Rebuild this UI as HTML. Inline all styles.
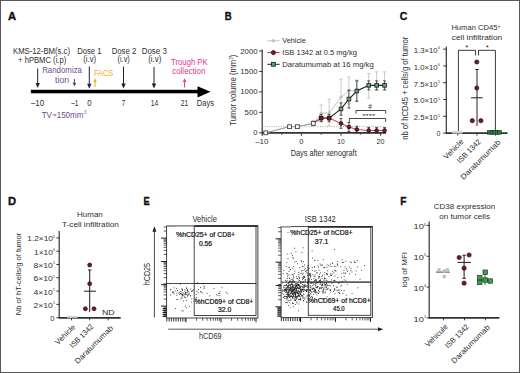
<!DOCTYPE html>
<html><head><meta charset="utf-8"><style>
html,body{margin:0;padding:0;background:#fff;}
svg{display:block;font-family:"Liberation Sans", sans-serif;}
</style></head><body>
<svg width="520" height="373" viewBox="0 0 520 373">
<rect width="520" height="373" fill="#fff"/>
<rect x="0.5" y="0.5" width="519" height="372" fill="none" stroke="#585858" stroke-width="1"/>
<text x="8.00" y="19.60" font-size="10.6" fill="#111" font-weight="bold" textLength="8.10" lengthAdjust="spacingAndGlyphs" stroke="#111" stroke-width="0.35">A</text>
<text x="224.80" y="19.60" font-size="10.6" fill="#111" font-weight="bold" textLength="6.90" lengthAdjust="spacingAndGlyphs" stroke="#111" stroke-width="0.35">B</text>
<text x="399.80" y="19.60" font-size="10.6" fill="#111" font-weight="bold" textLength="7.60" lengthAdjust="spacingAndGlyphs" stroke="#111" stroke-width="0.35">C</text>
<text x="8.00" y="205.10" font-size="10.6" fill="#111" font-weight="bold" textLength="8.10" lengthAdjust="spacingAndGlyphs" stroke="#111" stroke-width="0.35">D</text>
<text x="143.50" y="205.10" font-size="10.6" fill="#111" font-weight="bold" textLength="6.20" lengthAdjust="spacingAndGlyphs" stroke="#111" stroke-width="0.35">E</text>
<text x="400.30" y="205.10" font-size="10.6" fill="#111" font-weight="bold" textLength="6.20" lengthAdjust="spacingAndGlyphs" stroke="#111" stroke-width="0.35">F</text>
<text x="13.00" y="53.70" font-size="8.5" fill="#2e2e2e" textLength="57.00" lengthAdjust="spacingAndGlyphs">KMS-12-BM(s.c)</text>
<text x="18.10" y="63.00" font-size="8.5" fill="#2e2e2e" textLength="48.20" lengthAdjust="spacingAndGlyphs">+ hPBMC (i.p)</text>
<text x="77.20" y="53.60" font-size="8.5" fill="#2e2e2e" textLength="24.30" lengthAdjust="spacingAndGlyphs">Dose 1</text>
<text x="83.20" y="62.20" font-size="8.5" fill="#2e2e2e" textLength="12.90" lengthAdjust="spacingAndGlyphs">(i.v)</text>
<text x="111.70" y="53.60" font-size="8.5" fill="#2e2e2e" textLength="24.50" lengthAdjust="spacingAndGlyphs">Dose 2</text>
<text x="117.50" y="62.20" font-size="8.5" fill="#2e2e2e" textLength="12.30" lengthAdjust="spacingAndGlyphs">(i.v)</text>
<text x="141.70" y="53.60" font-size="8.5" fill="#2e2e2e" textLength="25.10" lengthAdjust="spacingAndGlyphs">Dose 3</text>
<text x="148.20" y="62.20" font-size="8.5" fill="#2e2e2e" textLength="13.20" lengthAdjust="spacingAndGlyphs">(i.v)</text>
<text x="42.20" y="73.20" font-size="8.5" fill="#6e4d8a" textLength="39.80" lengthAdjust="spacingAndGlyphs">Randomiza</text>
<text x="55.10" y="82.50" font-size="8.5" fill="#6e4d8a" textLength="14.00" lengthAdjust="spacingAndGlyphs">tion</text>
<text x="94.00" y="75.50" font-size="8.5" fill="#f0a830" textLength="19.30" lengthAdjust="spacingAndGlyphs">FACS</text>
<text x="171.10" y="64.80" font-size="8.5" fill="#e0368c" textLength="36.50" lengthAdjust="spacingAndGlyphs">Trough PK</text>
<text x="172.20" y="74.00" font-size="8.5" fill="#e0368c" textLength="33.20" lengthAdjust="spacingAndGlyphs">collection</text>
<text x="31.00" y="105.50" font-size="8.5" fill="#2e2e2e" textLength="13.10" lengthAdjust="spacingAndGlyphs">–10</text>
<text x="71.20" y="105.50" font-size="8.5" fill="#2e2e2e" textLength="7.10" lengthAdjust="spacingAndGlyphs">–1</text>
<text x="87.30" y="105.50" font-size="8.5" fill="#2e2e2e" textLength="4.30" lengthAdjust="spacingAndGlyphs">0</text>
<text x="121.80" y="105.50" font-size="8.5" fill="#2e2e2e" textLength="3.50" lengthAdjust="spacingAndGlyphs">7</text>
<text x="150.70" y="105.50" font-size="8.5" fill="#2e2e2e" textLength="7.50" lengthAdjust="spacingAndGlyphs">14</text>
<text x="180.80" y="105.50" font-size="8.5" fill="#2e2e2e" textLength="7.50" lengthAdjust="spacingAndGlyphs">21</text>
<text x="196.80" y="105.50" font-size="8.5" fill="#2e2e2e" textLength="17.20" lengthAdjust="spacingAndGlyphs">Days</text>
<text x="41.70" y="117.60" font-size="8.5" fill="#6e4d8a" textLength="41.80" lengthAdjust="spacingAndGlyphs">TV~150mm</text>
<text x="83.90" y="114.20" font-size="4.8" fill="#6e4d8a" textLength="2.40" lengthAdjust="spacingAndGlyphs">3</text>
<rect x="30.8" y="89.8" width="168" height="3.5" fill="#000"/>
<polygon points="197.5,86.2 210.5,91.8 197.5,97.4" fill="#000"/>
<line x1="37.70" y1="68.50" x2="37.70" y2="83.50" stroke="#222" stroke-width="1"/>
<polygon points="35.50,83.00 39.90,83.00 37.70,88.00" fill="#222"/>
<line x1="89.30" y1="66.50" x2="89.30" y2="84.30" stroke="#1a2238" stroke-width="1"/>
<polygon points="87.10,83.80 91.50,83.80 89.30,88.80" fill="#1a2238"/>
<line x1="123.50" y1="66.50" x2="123.50" y2="84.10" stroke="#222" stroke-width="1"/>
<polygon points="121.30,83.60 125.70,83.60 123.50,88.60" fill="#222"/>
<line x1="154.00" y1="66.90" x2="154.00" y2="84.10" stroke="#222" stroke-width="1"/>
<polygon points="151.80,83.60 156.20,83.60 154.00,88.60" fill="#222"/>
<line x1="74.40" y1="79.00" x2="74.40" y2="83.20" stroke="#5a3a78" stroke-width="1"/>
<polygon points="72.60,82.70 76.20,82.70 74.40,86.50" fill="#5a3a78"/>
<line x1="95.00" y1="87.00" x2="95.00" y2="81.60" stroke="#f0a830" stroke-width="1"/>
<polygon points="93.20,82.10 96.80,82.10 95.00,78.30" fill="#f0a830"/>
<line x1="184.60" y1="87.50" x2="184.60" y2="81.60" stroke="#e0368c" stroke-width="1"/>
<polygon points="182.80,82.10 186.40,82.10 184.60,78.30" fill="#e0368c"/>
<line x1="262.20" y1="49.50" x2="262.20" y2="135.80" stroke="#333" stroke-width="1.2"/>
<line x1="259.20" y1="132.80" x2="262.20" y2="132.80" stroke="#333" stroke-width="1"/>
<line x1="259.20" y1="112.35" x2="262.20" y2="112.35" stroke="#333" stroke-width="1"/>
<line x1="259.20" y1="91.90" x2="262.20" y2="91.90" stroke="#333" stroke-width="1"/>
<line x1="259.20" y1="71.45" x2="262.20" y2="71.45" stroke="#333" stroke-width="1"/>
<line x1="259.20" y1="51.00" x2="262.20" y2="51.00" stroke="#333" stroke-width="1"/>
<text x="257.60" y="53.50" font-size="7.4" fill="#2e2e2e" text-anchor="end" textLength="17.30" lengthAdjust="spacingAndGlyphs">2000</text>
<text x="257.60" y="73.95" font-size="7.4" fill="#2e2e2e" text-anchor="end" textLength="17.30" lengthAdjust="spacingAndGlyphs">1500</text>
<text x="257.60" y="94.40" font-size="7.4" fill="#2e2e2e" text-anchor="end" textLength="17.30" lengthAdjust="spacingAndGlyphs">1000</text>
<text x="257.60" y="114.85" font-size="7.4" fill="#2e2e2e" text-anchor="end" textLength="13.00" lengthAdjust="spacingAndGlyphs">500</text>
<text x="257.40" y="135.30" font-size="7.4" fill="#2e2e2e" text-anchor="end" textLength="4.20" lengthAdjust="spacingAndGlyphs">0</text>
<line x1="262.00" y1="132.80" x2="386.00" y2="132.80" stroke="#333" stroke-width="1.8"/>
<line x1="301.40" y1="133.30" x2="301.40" y2="135.80" stroke="#333" stroke-width="1"/>
<line x1="341.00" y1="133.30" x2="341.00" y2="135.80" stroke="#333" stroke-width="1"/>
<line x1="380.60" y1="133.30" x2="380.60" y2="135.80" stroke="#333" stroke-width="1"/>
<line x1="281.60" y1="133.30" x2="281.60" y2="135.00" stroke="#333" stroke-width="0.8"/>
<line x1="321.20" y1="133.30" x2="321.20" y2="135.00" stroke="#333" stroke-width="0.8"/>
<line x1="360.80" y1="133.30" x2="360.80" y2="135.00" stroke="#333" stroke-width="0.8"/>
<text x="261.80" y="144.40" font-size="7.4" fill="#2e2e2e" text-anchor="middle" textLength="13.20" lengthAdjust="spacingAndGlyphs">–10</text>
<text x="301.40" y="144.20" font-size="7.4" fill="#2e2e2e" text-anchor="middle" textLength="4.20" lengthAdjust="spacingAndGlyphs">0</text>
<text x="341.00" y="144.20" font-size="7.4" fill="#2e2e2e" text-anchor="middle" textLength="7.40" lengthAdjust="spacingAndGlyphs">10</text>
<text x="380.60" y="144.20" font-size="7.4" fill="#2e2e2e" text-anchor="middle" textLength="8.00" lengthAdjust="spacingAndGlyphs">20</text>
<text x="290.70" y="155.90" font-size="8.9" fill="#2e2e2e" textLength="66.00" lengthAdjust="spacingAndGlyphs">Days after xenograft</text>
<text x="235.80" y="125.70" font-size="8.8" fill="#2e2e2e" textLength="71.00" lengthAdjust="spacingAndGlyphs" transform="rotate(-90 235.80 125.70)">Tumor volume (mm<tspan font-size="5.2" dy="-3.2">3</tspan><tspan dy="3.2">)</tspan></text>
<line x1="262.50" y1="126.67" x2="384.00" y2="126.67" stroke="#888" stroke-width="0.7" stroke-dasharray="1,1.3"/>
<line x1="313.28" y1="120.94" x2="313.28" y2="125.85" stroke="#c4c4c4" stroke-width="0.9"/>
<line x1="311.48" y1="120.94" x2="315.08" y2="120.94" stroke="#c4c4c4" stroke-width="0.9"/>
<line x1="311.48" y1="125.85" x2="315.08" y2="125.85" stroke="#c4c4c4" stroke-width="0.9"/>
<line x1="321.20" y1="105.11" x2="321.20" y2="121.47" stroke="#c4c4c4" stroke-width="0.9"/>
<line x1="319.40" y1="105.11" x2="323.00" y2="105.11" stroke="#c4c4c4" stroke-width="0.9"/>
<line x1="319.40" y1="121.47" x2="323.00" y2="121.47" stroke="#c4c4c4" stroke-width="0.9"/>
<line x1="329.12" y1="99.22" x2="329.12" y2="126.22" stroke="#c4c4c4" stroke-width="0.9"/>
<line x1="327.32" y1="99.22" x2="330.92" y2="99.22" stroke="#c4c4c4" stroke-width="0.9"/>
<line x1="327.32" y1="126.22" x2="330.92" y2="126.22" stroke="#c4c4c4" stroke-width="0.9"/>
<line x1="341.00" y1="79.10" x2="341.00" y2="115.34" stroke="#c4c4c4" stroke-width="0.9"/>
<line x1="339.20" y1="79.10" x2="342.80" y2="79.10" stroke="#c4c4c4" stroke-width="0.9"/>
<line x1="339.20" y1="115.34" x2="342.80" y2="115.34" stroke="#c4c4c4" stroke-width="0.9"/>
<line x1="348.92" y1="77.09" x2="348.92" y2="103.92" stroke="#c4c4c4" stroke-width="0.9"/>
<line x1="347.12" y1="77.09" x2="350.72" y2="77.09" stroke="#c4c4c4" stroke-width="0.9"/>
<line x1="347.12" y1="103.92" x2="350.72" y2="103.92" stroke="#c4c4c4" stroke-width="0.9"/>
<line x1="356.84" y1="80.04" x2="356.84" y2="101.31" stroke="#c4c4c4" stroke-width="0.9"/>
<line x1="355.04" y1="80.04" x2="358.64" y2="80.04" stroke="#c4c4c4" stroke-width="0.9"/>
<line x1="355.04" y1="101.31" x2="358.64" y2="101.31" stroke="#c4c4c4" stroke-width="0.9"/>
<line x1="368.72" y1="73.50" x2="368.72" y2="98.04" stroke="#c4c4c4" stroke-width="0.9"/>
<line x1="366.92" y1="73.50" x2="370.52" y2="73.50" stroke="#c4c4c4" stroke-width="0.9"/>
<line x1="366.92" y1="98.04" x2="370.52" y2="98.04" stroke="#c4c4c4" stroke-width="0.9"/>
<line x1="376.64" y1="71.86" x2="376.64" y2="90.26" stroke="#c4c4c4" stroke-width="0.9"/>
<line x1="374.84" y1="71.86" x2="378.44" y2="71.86" stroke="#c4c4c4" stroke-width="0.9"/>
<line x1="374.84" y1="90.26" x2="378.44" y2="90.26" stroke="#c4c4c4" stroke-width="0.9"/>
<line x1="384.56" y1="71.86" x2="384.56" y2="90.26" stroke="#c4c4c4" stroke-width="0.9"/>
<line x1="382.76" y1="71.86" x2="386.36" y2="71.86" stroke="#c4c4c4" stroke-width="0.9"/>
<line x1="382.76" y1="90.26" x2="386.36" y2="90.26" stroke="#c4c4c4" stroke-width="0.9"/>
<polyline points="265.76,132.80 289.52,126.67 297.44,126.67 313.28,123.39 321.20,113.29 329.12,112.72 341.00,97.22 348.92,90.51 356.84,90.67 368.72,85.77 376.64,85.77 384.56,85.77" fill="none" stroke="#c4c4c4" stroke-width="1"/>
<circle cx="265.76" cy="132.80" r="1.6" fill="#c4c4c4"/>
<circle cx="289.52" cy="126.67" r="1.6" fill="#c4c4c4"/>
<circle cx="297.44" cy="126.67" r="1.6" fill="#c4c4c4"/>
<circle cx="313.28" cy="123.39" r="1.6" fill="#c4c4c4"/>
<circle cx="321.20" cy="113.29" r="1.6" fill="#c4c4c4"/>
<circle cx="329.12" cy="112.72" r="1.6" fill="#c4c4c4"/>
<circle cx="341.00" cy="97.22" r="1.6" fill="#c4c4c4"/>
<circle cx="348.92" cy="90.51" r="1.6" fill="#c4c4c4"/>
<circle cx="356.84" cy="90.67" r="1.6" fill="#c4c4c4"/>
<circle cx="368.72" cy="85.77" r="1.6" fill="#c4c4c4"/>
<circle cx="376.64" cy="85.77" r="1.6" fill="#c4c4c4"/>
<circle cx="384.56" cy="85.77" r="1.6" fill="#c4c4c4"/>
<line x1="313.28" y1="121.35" x2="313.28" y2="125.44" stroke="#333" stroke-width="0.8"/>
<line x1="311.78" y1="121.35" x2="314.78" y2="121.35" stroke="#333" stroke-width="0.8"/>
<line x1="311.78" y1="125.44" x2="314.78" y2="125.44" stroke="#333" stroke-width="0.8"/>
<line x1="321.20" y1="114.40" x2="321.20" y2="121.76" stroke="#333" stroke-width="0.8"/>
<line x1="319.70" y1="114.40" x2="322.70" y2="114.40" stroke="#333" stroke-width="0.8"/>
<line x1="319.70" y1="121.76" x2="322.70" y2="121.76" stroke="#333" stroke-width="0.8"/>
<line x1="329.12" y1="114.40" x2="329.12" y2="121.76" stroke="#333" stroke-width="0.8"/>
<line x1="327.62" y1="114.40" x2="330.62" y2="114.40" stroke="#333" stroke-width="0.8"/>
<line x1="327.62" y1="121.76" x2="330.62" y2="121.76" stroke="#333" stroke-width="0.8"/>
<line x1="341.00" y1="102.82" x2="341.00" y2="115.09" stroke="#333" stroke-width="0.8"/>
<line x1="339.50" y1="102.82" x2="342.50" y2="102.82" stroke="#333" stroke-width="0.8"/>
<line x1="339.50" y1="115.09" x2="342.50" y2="115.09" stroke="#333" stroke-width="0.8"/>
<line x1="348.92" y1="90.06" x2="348.92" y2="108.06" stroke="#333" stroke-width="0.8"/>
<line x1="347.42" y1="90.06" x2="350.42" y2="90.06" stroke="#333" stroke-width="0.8"/>
<line x1="347.42" y1="108.06" x2="350.42" y2="108.06" stroke="#333" stroke-width="0.8"/>
<line x1="356.84" y1="80.78" x2="356.84" y2="101.23" stroke="#333" stroke-width="0.8"/>
<line x1="355.34" y1="80.78" x2="358.34" y2="80.78" stroke="#333" stroke-width="0.8"/>
<line x1="355.34" y1="101.23" x2="358.34" y2="101.23" stroke="#333" stroke-width="0.8"/>
<line x1="368.72" y1="80.86" x2="368.72" y2="89.86" stroke="#333" stroke-width="0.8"/>
<line x1="367.22" y1="80.86" x2="370.22" y2="80.86" stroke="#333" stroke-width="0.8"/>
<line x1="367.22" y1="89.86" x2="370.22" y2="89.86" stroke="#333" stroke-width="0.8"/>
<line x1="376.64" y1="80.86" x2="376.64" y2="89.86" stroke="#333" stroke-width="0.8"/>
<line x1="375.14" y1="80.86" x2="378.14" y2="80.86" stroke="#333" stroke-width="0.8"/>
<line x1="375.14" y1="89.86" x2="378.14" y2="89.86" stroke="#333" stroke-width="0.8"/>
<line x1="384.56" y1="80.86" x2="384.56" y2="89.86" stroke="#333" stroke-width="0.8"/>
<line x1="383.06" y1="80.86" x2="386.06" y2="80.86" stroke="#333" stroke-width="0.8"/>
<line x1="383.06" y1="89.86" x2="386.06" y2="89.86" stroke="#333" stroke-width="0.8"/>
<polyline points="313.28,123.39 321.20,118.08 329.12,118.08 341.00,108.96 348.92,99.06 356.84,91.00 368.72,85.36 376.64,85.36 384.56,85.36" fill="none" stroke="#222" stroke-width="1.1"/>
<line x1="341.00" y1="118.49" x2="341.00" y2="128.30" stroke="#333" stroke-width="0.8"/>
<line x1="339.50" y1="118.49" x2="342.50" y2="118.49" stroke="#333" stroke-width="0.8"/>
<line x1="339.50" y1="128.30" x2="342.50" y2="128.30" stroke="#333" stroke-width="0.8"/>
<line x1="348.92" y1="122.49" x2="348.92" y2="131.49" stroke="#333" stroke-width="0.8"/>
<line x1="347.42" y1="122.49" x2="350.42" y2="122.49" stroke="#333" stroke-width="0.8"/>
<line x1="347.42" y1="131.49" x2="350.42" y2="131.49" stroke="#333" stroke-width="0.8"/>
<line x1="356.84" y1="126.22" x2="356.84" y2="132.76" stroke="#333" stroke-width="0.8"/>
<line x1="355.34" y1="126.22" x2="358.34" y2="126.22" stroke="#333" stroke-width="0.8"/>
<line x1="355.34" y1="132.76" x2="358.34" y2="132.76" stroke="#333" stroke-width="0.8"/>
<line x1="368.72" y1="127.44" x2="368.72" y2="132.80" stroke="#333" stroke-width="0.8"/>
<line x1="367.22" y1="127.44" x2="370.22" y2="127.44" stroke="#333" stroke-width="0.8"/>
<line x1="367.22" y1="132.80" x2="370.22" y2="132.80" stroke="#333" stroke-width="0.8"/>
<line x1="376.64" y1="127.44" x2="376.64" y2="132.80" stroke="#333" stroke-width="0.8"/>
<line x1="375.14" y1="127.44" x2="378.14" y2="127.44" stroke="#333" stroke-width="0.8"/>
<line x1="375.14" y1="132.80" x2="378.14" y2="132.80" stroke="#333" stroke-width="0.8"/>
<line x1="384.56" y1="127.44" x2="384.56" y2="132.80" stroke="#333" stroke-width="0.8"/>
<line x1="383.06" y1="127.44" x2="386.06" y2="127.44" stroke="#333" stroke-width="0.8"/>
<line x1="383.06" y1="132.80" x2="386.06" y2="132.80" stroke="#333" stroke-width="0.8"/>
<polyline points="313.28,123.39 321.20,118.08 329.12,118.08 341.00,123.39 348.92,126.99 356.84,129.49 368.72,130.51 376.64,130.51 384.56,130.51" fill="none" stroke="#d04a62" stroke-width="1.1"/>
<polyline points="265.76,132.80 289.52,126.67 297.44,126.67 313.28,123.39" fill="none" stroke="#999" stroke-width="0.9"/>
<rect x="319.40" y="116.28" width="3.6" height="3.6" fill="#6aa878" stroke="#1e2a20" stroke-width="0.9"/>
<rect x="327.32" y="116.28" width="3.6" height="3.6" fill="#6aa878" stroke="#1e2a20" stroke-width="0.9"/>
<rect x="339.20" y="107.16" width="3.6" height="3.6" fill="#6aa878" stroke="#1e2a20" stroke-width="0.9"/>
<rect x="347.12" y="97.26" width="3.6" height="3.6" fill="#6aa878" stroke="#1e2a20" stroke-width="0.9"/>
<rect x="355.04" y="89.20" width="3.6" height="3.6" fill="#6aa878" stroke="#1e2a20" stroke-width="0.9"/>
<rect x="366.92" y="83.56" width="3.6" height="3.6" fill="#6aa878" stroke="#1e2a20" stroke-width="0.9"/>
<rect x="374.84" y="83.56" width="3.6" height="3.6" fill="#6aa878" stroke="#1e2a20" stroke-width="0.9"/>
<rect x="382.76" y="83.56" width="3.6" height="3.6" fill="#6aa878" stroke="#1e2a20" stroke-width="0.9"/>
<circle cx="321.20" cy="118.08" r="1.9" fill="#7a1528" stroke="#2a0a10" stroke-width="0.7"/>
<circle cx="329.12" cy="118.08" r="1.9" fill="#7a1528" stroke="#2a0a10" stroke-width="0.7"/>
<circle cx="341.00" cy="123.39" r="1.9" fill="#7a1528" stroke="#2a0a10" stroke-width="0.7"/>
<circle cx="348.92" cy="126.99" r="1.9" fill="#7a1528" stroke="#2a0a10" stroke-width="0.7"/>
<circle cx="356.84" cy="129.49" r="1.9" fill="#7a1528" stroke="#2a0a10" stroke-width="0.7"/>
<circle cx="368.72" cy="130.51" r="1.9" fill="#7a1528" stroke="#2a0a10" stroke-width="0.7"/>
<circle cx="376.64" cy="130.51" r="1.9" fill="#7a1528" stroke="#2a0a10" stroke-width="0.7"/>
<circle cx="384.56" cy="130.51" r="1.9" fill="#7a1528" stroke="#2a0a10" stroke-width="0.7"/>
<rect x="263.86" y="130.90" width="3.8" height="3.8" fill="#fff" stroke="#444" stroke-width="0.9"/>
<rect x="287.62" y="124.77" width="3.8" height="3.8" fill="#fff" stroke="#444" stroke-width="0.9"/>
<rect x="295.54" y="124.77" width="3.8" height="3.8" fill="#fff" stroke="#444" stroke-width="0.9"/>
<rect x="311.38" y="121.49" width="3.8" height="3.8" fill="#fff" stroke="#444" stroke-width="0.9"/>
<line x1="267.30" y1="40.80" x2="279.60" y2="40.80" stroke="#c4c4c4" stroke-width="1"/>
<circle cx="273.3" cy="40.8" r="1.7" fill="#c4c4c4"/>
<text x="282.20" y="43.10" font-size="7.6" fill="#2e2e2e" textLength="23.60" lengthAdjust="spacingAndGlyphs">Vehicle</text>
<line x1="267.30" y1="52.60" x2="279.60" y2="52.60" stroke="#c0394f" stroke-width="1"/>
<circle cx="273.4" cy="52.6" r="2.1" fill="#7a1528" stroke="#2a0a10" stroke-width="0.7"/>
<text x="282.20" y="54.90" font-size="7.6" fill="#2e2e2e" textLength="74.70" lengthAdjust="spacingAndGlyphs">ISB 1342 at 0.5 mg/kg</text>
<line x1="267.30" y1="64.30" x2="279.60" y2="64.30" stroke="#222" stroke-width="1"/>
<rect x="271.5" y="62.4" width="3.8" height="3.8" fill="#5aa86a" stroke="#1e2a20" stroke-width="0.9"/>
<text x="282.20" y="66.60" font-size="7.6" fill="#2e2e2e" textLength="91.60" lengthAdjust="spacingAndGlyphs">Daratumumab at 16 mg/kg</text>
<line x1="356.00" y1="110.50" x2="385.70" y2="110.50" stroke="#333" stroke-width="0.9"/>
<line x1="356.00" y1="110.50" x2="356.00" y2="113.70" stroke="#333" stroke-width="0.9"/>
<line x1="385.70" y1="110.50" x2="385.70" y2="113.70" stroke="#333" stroke-width="0.9"/>
<text x="370.00" y="108.90" font-size="6.5" fill="#2e2e2e" text-anchor="middle">#</text>
<line x1="349.30" y1="118.50" x2="385.70" y2="118.50" stroke="#333" stroke-width="0.9"/>
<line x1="349.30" y1="118.50" x2="349.30" y2="121.90" stroke="#333" stroke-width="0.9"/>
<line x1="385.70" y1="118.50" x2="385.70" y2="121.90" stroke="#333" stroke-width="0.9"/>
<text x="368.80" y="118.00" font-size="6.2" fill="#2e2e2e" text-anchor="middle" textLength="13.20" lengthAdjust="spacingAndGlyphs">****</text>
<line x1="446.30" y1="46.50" x2="446.30" y2="133.80" stroke="#333" stroke-width="1.2"/>
<line x1="446.00" y1="133.10" x2="507.50" y2="133.10" stroke="#333" stroke-width="1.8"/>
<line x1="443.20" y1="49.10" x2="446.30" y2="49.10" stroke="#333" stroke-width="1"/>
<text x="413.80" y="53.00" font-size="7.0" fill="#2e2e2e" textLength="23.80" lengthAdjust="spacingAndGlyphs">1.3×10</text>
<text x="437.90" y="49.40" font-size="3.6" fill="#2e2e2e" textLength="1.90" lengthAdjust="spacingAndGlyphs">6</text>
<line x1="443.20" y1="65.90" x2="446.30" y2="65.90" stroke="#333" stroke-width="1"/>
<text x="413.80" y="69.80" font-size="7.0" fill="#2e2e2e" textLength="23.80" lengthAdjust="spacingAndGlyphs">1.0×10</text>
<text x="437.90" y="66.20" font-size="3.6" fill="#2e2e2e" textLength="1.90" lengthAdjust="spacingAndGlyphs">6</text>
<line x1="443.20" y1="82.70" x2="446.30" y2="82.70" stroke="#333" stroke-width="1"/>
<text x="413.80" y="86.60" font-size="7.0" fill="#2e2e2e" textLength="23.80" lengthAdjust="spacingAndGlyphs">7.5×10</text>
<text x="437.90" y="83.00" font-size="3.6" fill="#2e2e2e" textLength="1.90" lengthAdjust="spacingAndGlyphs">5</text>
<line x1="443.20" y1="99.50" x2="446.30" y2="99.50" stroke="#333" stroke-width="1"/>
<text x="413.80" y="103.40" font-size="7.0" fill="#2e2e2e" textLength="23.80" lengthAdjust="spacingAndGlyphs">5.0×10</text>
<text x="437.90" y="99.80" font-size="3.6" fill="#2e2e2e" textLength="1.90" lengthAdjust="spacingAndGlyphs">5</text>
<line x1="443.20" y1="116.30" x2="446.30" y2="116.30" stroke="#333" stroke-width="1"/>
<text x="413.80" y="120.20" font-size="7.0" fill="#2e2e2e" textLength="23.80" lengthAdjust="spacingAndGlyphs">2.5×10</text>
<text x="437.90" y="116.60" font-size="3.6" fill="#2e2e2e" textLength="1.90" lengthAdjust="spacingAndGlyphs">5</text>
<line x1="443.20" y1="133.10" x2="446.30" y2="133.10" stroke="#333" stroke-width="1"/>
<text x="436.50" y="136.30" font-size="7.0" fill="#2e2e2e" textLength="3.90" lengthAdjust="spacingAndGlyphs">0</text>
<text x="408.00" y="139.80" font-size="8.2" fill="#2e2e2e" textLength="103.00" lengthAdjust="spacingAndGlyphs" transform="rotate(-90 408.00 139.80)">nb of hCD45 + cells/g of tumor</text>
<text x="451.40" y="30.10" font-size="7.6" fill="#2e2e2e" textLength="46.00" lengthAdjust="spacingAndGlyphs">Human CD45</text>
<text x="497.80" y="27.60" font-size="4.5" fill="#2e2e2e" textLength="2.60" lengthAdjust="spacingAndGlyphs">+</text>
<text x="451.80" y="39.90" font-size="7.6" fill="#2e2e2e" textLength="50.40" lengthAdjust="spacingAndGlyphs">cell infiltration</text>
<line x1="457.80" y1="133.10" x2="457.80" y2="135.60" stroke="#333" stroke-width="1"/>
<line x1="477.00" y1="133.10" x2="477.00" y2="135.60" stroke="#333" stroke-width="1"/>
<line x1="495.40" y1="133.10" x2="495.40" y2="135.60" stroke="#333" stroke-width="1"/>
<line x1="458.40" y1="50.30" x2="475.60" y2="50.30" stroke="#222" stroke-width="0.9"/>
<line x1="458.40" y1="50.30" x2="458.40" y2="131.00" stroke="#222" stroke-width="0.9"/>
<line x1="475.60" y1="50.30" x2="475.60" y2="55.40" stroke="#222" stroke-width="0.9"/>
<line x1="478.50" y1="50.30" x2="495.40" y2="50.30" stroke="#222" stroke-width="0.9"/>
<line x1="478.50" y1="50.30" x2="478.50" y2="55.40" stroke="#222" stroke-width="0.9"/>
<line x1="495.40" y1="50.30" x2="495.40" y2="131.00" stroke="#222" stroke-width="0.9"/>
<text x="466.90" y="49.60" font-size="8.0" fill="#2e2e2e" text-anchor="middle">*</text>
<text x="487.40" y="49.60" font-size="8.0" fill="#2e2e2e" text-anchor="middle">*</text>
<line x1="477.00" y1="69.50" x2="477.00" y2="126.00" stroke="#222" stroke-width="1.0"/>
<line x1="475.30" y1="69.50" x2="478.70" y2="69.50" stroke="#222" stroke-width="1.0"/>
<line x1="471.00" y1="97.80" x2="482.80" y2="97.80" stroke="#222" stroke-width="1.0"/>
<circle cx="476.8" cy="62.0" r="2.1" fill="#7a1528" stroke="#2a0a10" stroke-width="0.7"/>
<circle cx="476.8" cy="88.0" r="2.1" fill="#7a1528" stroke="#2a0a10" stroke-width="0.7"/>
<circle cx="472.3" cy="120.7" r="2.1" fill="#7a1528" stroke="#2a0a10" stroke-width="0.7"/>
<circle cx="480.9" cy="120.7" r="2.1" fill="#7a1528" stroke="#2a0a10" stroke-width="0.7"/>
<circle cx="453.5" cy="132.2" r="1.5" fill="#cfcfcf"/>
<circle cx="456" cy="132.2" r="1.5" fill="#cfcfcf"/>
<circle cx="458.5" cy="132.2" r="1.5" fill="#cfcfcf"/>
<circle cx="461" cy="132.2" r="1.5" fill="#cfcfcf"/>
<rect x="487.6" y="130.6" width="3.8" height="3.6" fill="#2f7a3c" stroke="#0e3a18" stroke-width="0.6"/>
<rect x="490.1" y="130.6" width="3.8" height="3.6" fill="#2f7a3c" stroke="#0e3a18" stroke-width="0.6"/>
<rect x="492.6" y="130.6" width="3.8" height="3.6" fill="#2f7a3c" stroke="#0e3a18" stroke-width="0.6"/>
<rect x="495.1" y="130.6" width="3.8" height="3.6" fill="#2f7a3c" stroke="#0e3a18" stroke-width="0.6"/>
<rect x="497.6" y="130.6" width="3.8" height="3.6" fill="#2f7a3c" stroke="#0e3a18" stroke-width="0.6"/>
<text x="464.00" y="142.30" font-size="7.6" fill="#2e2e2e" text-anchor="end" textLength="24.60" lengthAdjust="spacingAndGlyphs" transform="rotate(-45 464.00 142.30)">Vehicle</text>
<text x="481.40" y="142.30" font-size="7.6" fill="#2e2e2e" text-anchor="end" textLength="30.20" lengthAdjust="spacingAndGlyphs" transform="rotate(-45 481.40 142.30)">ISB 1342</text>
<text x="501.00" y="142.80" font-size="7.6" fill="#2e2e2e" text-anchor="end" textLength="53.00" lengthAdjust="spacingAndGlyphs" transform="rotate(-45 501.00 142.80)">Daratumumab</text>
<line x1="59.20" y1="231.00" x2="59.20" y2="318.50" stroke="#333" stroke-width="1.2"/>
<line x1="59.00" y1="317.80" x2="120.70" y2="317.80" stroke="#333" stroke-width="1.8"/>
<line x1="56.40" y1="237.90" x2="59.20" y2="237.90" stroke="#333" stroke-width="1"/>
<text x="27.30" y="241.30" font-size="7.4" fill="#2e2e2e" textLength="25.60" lengthAdjust="spacingAndGlyphs">1.2×10</text>
<text x="53.00" y="237.80" font-size="3.6" fill="#2e2e2e" textLength="1.90" lengthAdjust="spacingAndGlyphs">6</text>
<line x1="56.40" y1="251.20" x2="59.20" y2="251.20" stroke="#333" stroke-width="1"/>
<text x="34.00" y="254.60" font-size="7.4" fill="#2e2e2e" textLength="18.90" lengthAdjust="spacingAndGlyphs">1×10</text>
<text x="53.00" y="251.10" font-size="3.6" fill="#2e2e2e" textLength="1.90" lengthAdjust="spacingAndGlyphs">6</text>
<line x1="56.40" y1="264.50" x2="59.20" y2="264.50" stroke="#333" stroke-width="1"/>
<text x="33.50" y="267.90" font-size="7.4" fill="#2e2e2e" textLength="19.40" lengthAdjust="spacingAndGlyphs">8×10</text>
<text x="53.00" y="264.40" font-size="3.6" fill="#2e2e2e" textLength="1.90" lengthAdjust="spacingAndGlyphs">5</text>
<line x1="56.40" y1="277.80" x2="59.20" y2="277.80" stroke="#333" stroke-width="1"/>
<text x="33.50" y="281.20" font-size="7.4" fill="#2e2e2e" textLength="19.40" lengthAdjust="spacingAndGlyphs">6×10</text>
<text x="53.00" y="277.70" font-size="3.6" fill="#2e2e2e" textLength="1.90" lengthAdjust="spacingAndGlyphs">5</text>
<line x1="56.40" y1="291.10" x2="59.20" y2="291.10" stroke="#333" stroke-width="1"/>
<text x="33.50" y="294.50" font-size="7.4" fill="#2e2e2e" textLength="19.40" lengthAdjust="spacingAndGlyphs">4×10</text>
<text x="53.00" y="291.00" font-size="3.6" fill="#2e2e2e" textLength="1.90" lengthAdjust="spacingAndGlyphs">5</text>
<line x1="56.40" y1="304.40" x2="59.20" y2="304.40" stroke="#333" stroke-width="1"/>
<text x="33.50" y="307.80" font-size="7.4" fill="#2e2e2e" textLength="19.40" lengthAdjust="spacingAndGlyphs">2×10</text>
<text x="53.00" y="304.30" font-size="3.6" fill="#2e2e2e" textLength="1.90" lengthAdjust="spacingAndGlyphs">5</text>
<line x1="56.40" y1="317.70" x2="59.20" y2="317.70" stroke="#333" stroke-width="1"/>
<text x="50.20" y="321.10" font-size="7.4" fill="#2e2e2e" textLength="4.30" lengthAdjust="spacingAndGlyphs">0</text>
<text x="21.30" y="315.20" font-size="8.0" fill="#2e2e2e" textLength="82.50" lengthAdjust="spacingAndGlyphs" transform="rotate(-90 21.30 315.20)">Nb of hT-cells/g of tumor</text>
<text x="77.10" y="217.30" font-size="6.9" fill="#2e2e2e" textLength="25.70" lengthAdjust="spacingAndGlyphs">Human</text>
<text x="62.10" y="226.60" font-size="6.9" fill="#2e2e2e" textLength="56.70" lengthAdjust="spacingAndGlyphs">T-cell infiltration</text>
<line x1="71.50" y1="317.80" x2="71.50" y2="320.30" stroke="#333" stroke-width="1"/>
<line x1="89.70" y1="317.80" x2="89.70" y2="320.30" stroke="#333" stroke-width="1"/>
<line x1="108.10" y1="317.80" x2="108.10" y2="320.30" stroke="#333" stroke-width="1"/>
<line x1="89.70" y1="270.00" x2="89.70" y2="312.20" stroke="#1a1a1a" stroke-width="1.0"/>
<line x1="88.00" y1="270.00" x2="91.40" y2="270.00" stroke="#1a1a1a" stroke-width="1.0"/>
<line x1="84.10" y1="291.20" x2="95.90" y2="291.20" stroke="#1a1a1a" stroke-width="1.0"/>
<circle cx="89.7" cy="265.0" r="2.0" fill="#7a1528" stroke="#2a0a10" stroke-width="0.7"/>
<circle cx="89.7" cy="283.7" r="2.0" fill="#7a1528" stroke="#2a0a10" stroke-width="0.7"/>
<circle cx="85.4" cy="308.8" r="2.0" fill="#7a1528" stroke="#2a0a10" stroke-width="0.7"/>
<circle cx="94.0" cy="308.8" r="2.0" fill="#7a1528" stroke="#2a0a10" stroke-width="0.7"/>
<circle cx="68.5" cy="317.0" r="1.3" fill="#cfcfcf"/>
<circle cx="71" cy="317.0" r="1.3" fill="#cfcfcf"/>
<circle cx="73.5" cy="317.0" r="1.3" fill="#cfcfcf"/>
<circle cx="76" cy="317.0" r="1.3" fill="#cfcfcf"/>
<text x="101.90" y="314.70" font-size="7.2" fill="#2e2e2e" textLength="12.80" lengthAdjust="spacingAndGlyphs">ND</text>
<text x="75.80" y="327.60" font-size="7.6" fill="#2e2e2e" text-anchor="end" textLength="25.00" lengthAdjust="spacingAndGlyphs" transform="rotate(-45 75.80 327.60)">Vehicle</text>
<text x="94.00" y="327.20" font-size="7.6" fill="#2e2e2e" text-anchor="end" textLength="30.10" lengthAdjust="spacingAndGlyphs" transform="rotate(-45 94.00 327.20)">ISB 1342</text>
<text x="113.60" y="328.50" font-size="7.6" fill="#2e2e2e" text-anchor="end" textLength="50.60" lengthAdjust="spacingAndGlyphs" transform="rotate(-45 113.60 328.50)">Daratumumab</text>
<line x1="429.20" y1="221.50" x2="429.20" y2="318.60" stroke="#333" stroke-width="1.2"/>
<line x1="429.00" y1="317.90" x2="499.40" y2="317.90" stroke="#333" stroke-width="1.8"/>
<line x1="426.60" y1="225.40" x2="429.20" y2="225.40" stroke="#333" stroke-width="1"/>
<text x="413.60" y="229.10" font-size="7.7" fill="#2e2e2e" textLength="10.30" lengthAdjust="spacingAndGlyphs">10</text>
<text x="424.00" y="225.60" font-size="3.8" fill="#2e2e2e" textLength="2.00" lengthAdjust="spacingAndGlyphs">6</text>
<line x1="426.60" y1="256.25" x2="429.20" y2="256.25" stroke="#333" stroke-width="1"/>
<text x="413.60" y="259.95" font-size="7.7" fill="#2e2e2e" textLength="10.30" lengthAdjust="spacingAndGlyphs">10</text>
<text x="424.00" y="256.45" font-size="3.8" fill="#2e2e2e" textLength="2.00" lengthAdjust="spacingAndGlyphs">5</text>
<line x1="426.60" y1="287.10" x2="429.20" y2="287.10" stroke="#333" stroke-width="1"/>
<text x="413.60" y="290.80" font-size="7.7" fill="#2e2e2e" textLength="10.30" lengthAdjust="spacingAndGlyphs">10</text>
<text x="424.00" y="287.30" font-size="3.8" fill="#2e2e2e" textLength="2.00" lengthAdjust="spacingAndGlyphs">4</text>
<line x1="426.60" y1="317.95" x2="429.20" y2="317.95" stroke="#333" stroke-width="1"/>
<text x="413.60" y="321.65" font-size="7.7" fill="#2e2e2e" textLength="10.30" lengthAdjust="spacingAndGlyphs">10</text>
<text x="424.00" y="318.15" font-size="3.8" fill="#2e2e2e" textLength="2.00" lengthAdjust="spacingAndGlyphs">3</text>
<line x1="443.60" y1="317.90" x2="443.60" y2="320.30" stroke="#333" stroke-width="1"/>
<line x1="464.50" y1="317.90" x2="464.50" y2="320.30" stroke="#333" stroke-width="1"/>
<line x1="485.40" y1="317.90" x2="485.40" y2="320.30" stroke="#333" stroke-width="1"/>
<text x="433.80" y="208.80" font-size="7.9" fill="#2e2e2e" textLength="61.30" lengthAdjust="spacingAndGlyphs">CD38 expression</text>
<text x="439.20" y="218.50" font-size="7.9" fill="#2e2e2e" textLength="50.80" lengthAdjust="spacingAndGlyphs">on tumor cells</text>
<text x="407.40" y="287.60" font-size="7.9" fill="#2e2e2e" textLength="35.70" lengthAdjust="spacingAndGlyphs" transform="rotate(-90 407.40 287.60)">log of MFI</text>
<line x1="435.80" y1="272.10" x2="449.70" y2="272.10" stroke="#444" stroke-width="1.0"/>
<circle cx="439" cy="269.8" r="1.9" fill="#c0c0c0"/>
<circle cx="444.3" cy="271.0" r="1.9" fill="#c0c0c0"/>
<circle cx="447.6" cy="269.8" r="1.9" fill="#c0c0c0"/>
<circle cx="444.3" cy="276.6" r="1.9" fill="#c0c0c0"/>
<line x1="464.10" y1="255.20" x2="464.10" y2="278.30" stroke="#1a1a1a" stroke-width="1.0"/>
<line x1="462.40" y1="255.20" x2="465.80" y2="255.20" stroke="#1a1a1a" stroke-width="1.0"/>
<line x1="462.40" y1="278.30" x2="465.80" y2="278.30" stroke="#1a1a1a" stroke-width="1.0"/>
<line x1="457.50" y1="262.40" x2="470.80" y2="262.40" stroke="#1a1a1a" stroke-width="1.0"/>
<circle cx="459.2" cy="257.5" r="2.1" fill="#7a1528" stroke="#2a0a10" stroke-width="0.7"/>
<circle cx="469.1" cy="255.0" r="2.1" fill="#7a1528" stroke="#2a0a10" stroke-width="0.7"/>
<circle cx="464.1" cy="268.2" r="2.1" fill="#7a1528" stroke="#2a0a10" stroke-width="0.7"/>
<circle cx="464.1" cy="283.2" r="2.1" fill="#7a1528" stroke="#2a0a10" stroke-width="0.7"/>
<line x1="485.00" y1="274.00" x2="485.00" y2="285.00" stroke="#333" stroke-width="0.8"/>
<line x1="479.50" y1="280.00" x2="490.50" y2="280.00" stroke="#333" stroke-width="0.8"/>
<rect x="483.00" y="270.00" width="4.4" height="4.4" fill="#3fa04e" stroke="#0e3a18" stroke-width="0.7"/>
<rect x="477.60" y="275.60" width="4.4" height="4.4" fill="#3fa04e" stroke="#0e3a18" stroke-width="0.7"/>
<rect x="477.60" y="280.20" width="4.4" height="4.4" fill="#3fa04e" stroke="#0e3a18" stroke-width="0.7"/>
<rect x="483.00" y="277.80" width="4.4" height="4.4" fill="#3fa04e" stroke="#0e3a18" stroke-width="0.7"/>
<rect x="488.00" y="278.80" width="4.4" height="4.4" fill="#3fa04e" stroke="#0e3a18" stroke-width="0.7"/>
<text x="448.30" y="327.30" font-size="7.6" fill="#2e2e2e" text-anchor="end" textLength="28.60" lengthAdjust="spacingAndGlyphs" transform="rotate(-45 448.30 327.30)">Vehicule</text>
<text x="469.50" y="327.30" font-size="7.6" fill="#2e2e2e" text-anchor="end" textLength="30.30" lengthAdjust="spacingAndGlyphs" transform="rotate(-45 469.50 327.30)">ISB 1342</text>
<text x="490.40" y="327.80" font-size="7.6" fill="#2e2e2e" text-anchor="end" textLength="51.10" lengthAdjust="spacingAndGlyphs" transform="rotate(-45 490.40 327.80)">Daratumumab</text>
<text x="192.40" y="221.60" font-size="8.2" fill="#2e2e2e" textLength="24.60" lengthAdjust="spacingAndGlyphs">Vehicle</text>
<text x="304.70" y="221.70" font-size="8.2" fill="#2e2e2e" textLength="31.10" lengthAdjust="spacingAndGlyphs">ISB 1342</text>
<line x1="154.40" y1="230.00" x2="154.40" y2="317.50" stroke="#333" stroke-width="0.9"/>
<polygon points="152.4,231.8 156.4,231.8 154.4,226.3" fill="#222"/>
<text x="149.60" y="285.20" font-size="8.4" fill="#2e2e2e" textLength="22.30" lengthAdjust="spacingAndGlyphs" transform="rotate(-90 149.60 285.20)">hCD25</text>
<line x1="168.20" y1="329.20" x2="380.00" y2="329.20" stroke="#444" stroke-width="0.9"/>
<polygon points="378.0,327.2 378.0,331.2 383.2,329.2" fill="#222"/>
<text x="199.10" y="338.80" font-size="8.6" fill="#2e2e2e" textLength="22.40" lengthAdjust="spacingAndGlyphs">hCD69</text>
<rect x="166.6" y="225.9" width="91.29999999999998" height="92.1" fill="none" stroke="#333" stroke-width="0.9"/>
<line x1="166.6" y1="226.1" x2="176.6" y2="226.1" stroke="#999" stroke-width="1.6"/>
<line x1="194.2" y1="226.1" x2="257.9" y2="226.1" stroke="#222" stroke-width="1.5"/>
<rect x="194.2" y="226.4" width="61.80000000000001" height="57.099999999999994" fill="none" stroke="#333" stroke-width="0.9"/>
<rect x="194.2" y="283.5" width="61.80000000000001" height="32.0" fill="none" stroke="#333" stroke-width="0.9"/>
<line x1="166.60" y1="283.50" x2="194.20" y2="283.50" stroke="#333" stroke-width="0.9"/>
<line x1="161.10" y1="238.10" x2="166.60" y2="238.10" stroke="#1a1a1a" stroke-width="1.0"/>
<line x1="163.60" y1="231.06" x2="166.60" y2="231.06" stroke="#1a1a1a" stroke-width="0.7"/>
<line x1="163.60" y1="226.94" x2="166.60" y2="226.94" stroke="#1a1a1a" stroke-width="0.7"/>
<line x1="161.10" y1="261.50" x2="166.60" y2="261.50" stroke="#1a1a1a" stroke-width="1.0"/>
<line x1="163.60" y1="254.46" x2="166.60" y2="254.46" stroke="#1a1a1a" stroke-width="0.7"/>
<line x1="163.60" y1="250.34" x2="166.60" y2="250.34" stroke="#1a1a1a" stroke-width="0.7"/>
<line x1="163.60" y1="247.41" x2="166.60" y2="247.41" stroke="#1a1a1a" stroke-width="0.7"/>
<line x1="163.60" y1="245.14" x2="166.60" y2="245.14" stroke="#1a1a1a" stroke-width="0.7"/>
<line x1="163.60" y1="243.29" x2="166.60" y2="243.29" stroke="#1a1a1a" stroke-width="0.7"/>
<line x1="163.60" y1="241.72" x2="166.60" y2="241.72" stroke="#1a1a1a" stroke-width="0.7"/>
<line x1="163.60" y1="240.37" x2="166.60" y2="240.37" stroke="#1a1a1a" stroke-width="0.7"/>
<line x1="163.60" y1="239.17" x2="166.60" y2="239.17" stroke="#1a1a1a" stroke-width="0.7"/>
<line x1="161.10" y1="284.70" x2="166.60" y2="284.70" stroke="#1a1a1a" stroke-width="1.0"/>
<line x1="163.60" y1="277.66" x2="166.60" y2="277.66" stroke="#1a1a1a" stroke-width="0.7"/>
<line x1="163.60" y1="273.54" x2="166.60" y2="273.54" stroke="#1a1a1a" stroke-width="0.7"/>
<line x1="163.60" y1="270.61" x2="166.60" y2="270.61" stroke="#1a1a1a" stroke-width="0.7"/>
<line x1="163.60" y1="268.34" x2="166.60" y2="268.34" stroke="#1a1a1a" stroke-width="0.7"/>
<line x1="163.60" y1="266.49" x2="166.60" y2="266.49" stroke="#1a1a1a" stroke-width="0.7"/>
<line x1="163.60" y1="264.92" x2="166.60" y2="264.92" stroke="#1a1a1a" stroke-width="0.7"/>
<line x1="163.60" y1="263.57" x2="166.60" y2="263.57" stroke="#1a1a1a" stroke-width="0.7"/>
<line x1="163.60" y1="262.37" x2="166.60" y2="262.37" stroke="#1a1a1a" stroke-width="0.7"/>
<line x1="161.10" y1="306.10" x2="166.60" y2="306.10" stroke="#1a1a1a" stroke-width="1.0"/>
<line x1="163.60" y1="299.06" x2="166.60" y2="299.06" stroke="#1a1a1a" stroke-width="0.7"/>
<line x1="163.60" y1="294.94" x2="166.60" y2="294.94" stroke="#1a1a1a" stroke-width="0.7"/>
<line x1="163.60" y1="292.01" x2="166.60" y2="292.01" stroke="#1a1a1a" stroke-width="0.7"/>
<line x1="163.60" y1="289.74" x2="166.60" y2="289.74" stroke="#1a1a1a" stroke-width="0.7"/>
<line x1="163.60" y1="287.89" x2="166.60" y2="287.89" stroke="#1a1a1a" stroke-width="0.7"/>
<line x1="163.60" y1="286.32" x2="166.60" y2="286.32" stroke="#1a1a1a" stroke-width="0.7"/>
<line x1="163.60" y1="284.97" x2="166.60" y2="284.97" stroke="#1a1a1a" stroke-width="0.7"/>
<line x1="163.60" y1="283.77" x2="166.60" y2="283.77" stroke="#1a1a1a" stroke-width="0.7"/>
<line x1="163.60" y1="315.41" x2="166.60" y2="315.41" stroke="#1a1a1a" stroke-width="0.7"/>
<line x1="163.60" y1="313.14" x2="166.60" y2="313.14" stroke="#1a1a1a" stroke-width="0.7"/>
<line x1="163.60" y1="311.29" x2="166.60" y2="311.29" stroke="#1a1a1a" stroke-width="0.7"/>
<line x1="163.60" y1="309.72" x2="166.60" y2="309.72" stroke="#1a1a1a" stroke-width="0.7"/>
<line x1="163.60" y1="308.37" x2="166.60" y2="308.37" stroke="#1a1a1a" stroke-width="0.7"/>
<line x1="163.60" y1="307.17" x2="166.60" y2="307.17" stroke="#1a1a1a" stroke-width="0.7"/>
<line x1="162.60" y1="316.50" x2="166.60" y2="316.50" stroke="#1a1a1a" stroke-width="1.0"/>
<line x1="162.60" y1="314.50" x2="166.60" y2="314.50" stroke="#1a1a1a" stroke-width="1.0"/>
<line x1="162.60" y1="312.50" x2="166.60" y2="312.50" stroke="#1a1a1a" stroke-width="1.0"/>
<line x1="162.60" y1="310.50" x2="166.60" y2="310.50" stroke="#1a1a1a" stroke-width="1.0"/>
<line x1="162.60" y1="308.50" x2="166.60" y2="308.50" stroke="#1a1a1a" stroke-width="1.0"/>
<line x1="186.00" y1="318.00" x2="186.00" y2="322.30" stroke="#222" stroke-width="1.0"/>
<line x1="196.54" y1="318.00" x2="196.54" y2="320.80" stroke="#222" stroke-width="0.7"/>
<line x1="202.70" y1="318.00" x2="202.70" y2="320.80" stroke="#222" stroke-width="0.7"/>
<line x1="207.07" y1="318.00" x2="207.07" y2="320.80" stroke="#222" stroke-width="0.7"/>
<line x1="210.46" y1="318.00" x2="210.46" y2="320.80" stroke="#222" stroke-width="0.7"/>
<line x1="213.24" y1="318.00" x2="213.24" y2="320.80" stroke="#222" stroke-width="0.7"/>
<line x1="215.58" y1="318.00" x2="215.58" y2="320.80" stroke="#222" stroke-width="0.7"/>
<line x1="217.61" y1="318.00" x2="217.61" y2="320.80" stroke="#222" stroke-width="0.7"/>
<line x1="219.40" y1="318.00" x2="219.40" y2="320.80" stroke="#222" stroke-width="0.7"/>
<line x1="221.00" y1="318.00" x2="221.00" y2="322.30" stroke="#222" stroke-width="1.0"/>
<line x1="231.54" y1="318.00" x2="231.54" y2="320.80" stroke="#222" stroke-width="0.7"/>
<line x1="237.70" y1="318.00" x2="237.70" y2="320.80" stroke="#222" stroke-width="0.7"/>
<line x1="242.07" y1="318.00" x2="242.07" y2="320.80" stroke="#222" stroke-width="0.7"/>
<line x1="245.46" y1="318.00" x2="245.46" y2="320.80" stroke="#222" stroke-width="0.7"/>
<line x1="248.24" y1="318.00" x2="248.24" y2="320.80" stroke="#222" stroke-width="0.7"/>
<line x1="250.58" y1="318.00" x2="250.58" y2="320.80" stroke="#222" stroke-width="0.7"/>
<line x1="252.61" y1="318.00" x2="252.61" y2="320.80" stroke="#222" stroke-width="0.7"/>
<line x1="254.40" y1="318.00" x2="254.40" y2="320.80" stroke="#222" stroke-width="0.7"/>
<line x1="256.00" y1="318.00" x2="256.00" y2="322.30" stroke="#222" stroke-width="1.0"/>
<line x1="166.80" y1="318.00" x2="166.80" y2="321.50" stroke="#222" stroke-width="0.9"/>
<line x1="169.10" y1="318.00" x2="169.10" y2="321.50" stroke="#222" stroke-width="0.9"/>
<line x1="171.40" y1="318.00" x2="171.40" y2="321.50" stroke="#222" stroke-width="0.9"/>
<line x1="173.70" y1="318.00" x2="173.70" y2="321.50" stroke="#222" stroke-width="0.9"/>
<line x1="176.00" y1="318.00" x2="176.00" y2="321.50" stroke="#222" stroke-width="0.9"/>
<line x1="178.30" y1="318.00" x2="178.30" y2="321.50" stroke="#222" stroke-width="0.9"/>
<line x1="180.60" y1="318.00" x2="180.60" y2="321.50" stroke="#222" stroke-width="0.9"/>
<line x1="182.90" y1="318.00" x2="182.90" y2="321.50" stroke="#222" stroke-width="0.9"/>
<line x1="185.20" y1="318.00" x2="185.20" y2="321.50" stroke="#222" stroke-width="0.9"/>
<rect x="173.7" y="293.3" width="0.85" height="0.85" fill="#1a1a1a"/>
<rect x="187.0" y="290.2" width="0.85" height="0.85" fill="#1a1a1a"/>
<rect x="173.0" y="291.8" width="0.85" height="0.85" fill="#1a1a1a"/>
<rect x="183.9" y="295.8" width="0.85" height="0.85" fill="#1a1a1a"/>
<rect x="173.7" y="287.5" width="0.85" height="0.85" fill="#1a1a1a"/>
<rect x="185.2" y="293.7" width="0.85" height="0.85" fill="#1a1a1a"/>
<rect x="190.2" y="295.4" width="0.85" height="0.85" fill="#1a1a1a"/>
<rect x="180.4" y="291.0" width="0.85" height="0.85" fill="#1a1a1a"/>
<rect x="196.4" y="291.0" width="0.85" height="0.85" fill="#1a1a1a"/>
<rect x="176.3" y="288.0" width="0.85" height="0.85" fill="#1a1a1a"/>
<rect x="181.6" y="292.5" width="0.85" height="0.85" fill="#1a1a1a"/>
<rect x="178.9" y="291.8" width="0.85" height="0.85" fill="#1a1a1a"/>
<rect x="182.6" y="294.4" width="0.85" height="0.85" fill="#1a1a1a"/>
<rect x="187.6" y="292.7" width="0.85" height="0.85" fill="#1a1a1a"/>
<rect x="170.3" y="294.5" width="0.85" height="0.85" fill="#1a1a1a"/>
<rect x="172.5" y="291.4" width="0.85" height="0.85" fill="#1a1a1a"/>
<rect x="172.2" y="292.0" width="0.85" height="0.85" fill="#1a1a1a"/>
<rect x="176.3" y="292.7" width="0.85" height="0.85" fill="#1a1a1a"/>
<rect x="200.8" y="291.8" width="0.85" height="0.85" fill="#1a1a1a"/>
<rect x="186.1" y="287.4" width="0.85" height="0.85" fill="#1a1a1a"/>
<rect x="179.3" y="294.3" width="0.85" height="0.85" fill="#1a1a1a"/>
<rect x="180.4" y="293.3" width="0.85" height="0.85" fill="#1a1a1a"/>
<rect x="181.6" y="288.5" width="0.85" height="0.85" fill="#1a1a1a"/>
<rect x="184.4" y="289.2" width="0.85" height="0.85" fill="#1a1a1a"/>
<rect x="192.2" y="290.2" width="0.85" height="0.85" fill="#1a1a1a"/>
<rect x="185.1" y="292.0" width="0.85" height="0.85" fill="#1a1a1a"/>
<rect x="186.7" y="289.9" width="0.85" height="0.85" fill="#1a1a1a"/>
<rect x="187.0" y="291.6" width="0.85" height="0.85" fill="#1a1a1a"/>
<rect x="188.6" y="294.2" width="0.85" height="0.85" fill="#1a1a1a"/>
<rect x="181.8" y="289.3" width="0.85" height="0.85" fill="#1a1a1a"/>
<rect x="185.6" y="293.6" width="0.85" height="0.85" fill="#1a1a1a"/>
<rect x="190.9" y="290.7" width="0.85" height="0.85" fill="#1a1a1a"/>
<rect x="184.3" y="293.8" width="0.85" height="0.85" fill="#1a1a1a"/>
<rect x="182.7" y="292.7" width="0.85" height="0.85" fill="#1a1a1a"/>
<rect x="182.1" y="289.9" width="0.85" height="0.85" fill="#1a1a1a"/>
<rect x="174.9" y="290.6" width="0.85" height="0.85" fill="#1a1a1a"/>
<rect x="184.5" y="297.3" width="0.85" height="0.85" fill="#1a1a1a"/>
<rect x="186.9" y="295.7" width="0.85" height="0.85" fill="#1a1a1a"/>
<rect x="185.7" y="294.4" width="0.85" height="0.85" fill="#1a1a1a"/>
<rect x="182.1" y="294.7" width="0.85" height="0.85" fill="#1a1a1a"/>
<rect x="191.6" y="290.9" width="0.85" height="0.85" fill="#1a1a1a"/>
<rect x="176.8" y="298.9" width="0.85" height="0.85" fill="#1a1a1a"/>
<rect x="182.5" y="295.4" width="0.85" height="0.85" fill="#1a1a1a"/>
<rect x="186.2" y="288.0" width="0.85" height="0.85" fill="#1a1a1a"/>
<rect x="195.6" y="298.2" width="0.85" height="0.85" fill="#1a1a1a"/>
<rect x="182.1" y="294.6" width="0.85" height="0.85" fill="#1a1a1a"/>
<rect x="181.8" y="288.9" width="0.85" height="0.85" fill="#1a1a1a"/>
<rect x="180.3" y="293.3" width="0.85" height="0.85" fill="#1a1a1a"/>
<rect x="187.7" y="294.5" width="0.85" height="0.85" fill="#1a1a1a"/>
<rect x="181.4" y="296.7" width="0.85" height="0.85" fill="#1a1a1a"/>
<rect x="176.4" y="294.8" width="0.85" height="0.85" fill="#1a1a1a"/>
<rect x="187.7" y="291.0" width="0.85" height="0.85" fill="#1a1a1a"/>
<rect x="170.3" y="288.8" width="0.85" height="0.85" fill="#1a1a1a"/>
<rect x="182.4" y="293.8" width="0.85" height="0.85" fill="#1a1a1a"/>
<rect x="190.3" y="288.5" width="0.85" height="0.85" fill="#1a1a1a"/>
<rect x="181.0" y="294.3" width="0.85" height="0.85" fill="#1a1a1a"/>
<rect x="180.1" y="283.7" width="0.85" height="0.85" fill="#1a1a1a"/>
<rect x="185.8" y="300.1" width="0.85" height="0.85" fill="#1a1a1a"/>
<rect x="187.0" y="288.8" width="0.85" height="0.85" fill="#1a1a1a"/>
<rect x="178.5" y="292.8" width="0.85" height="0.85" fill="#1a1a1a"/>
<rect x="195.9" y="294.2" width="0.85" height="0.85" fill="#1a1a1a"/>
<rect x="181.7" y="297.5" width="0.85" height="0.85" fill="#1a1a1a"/>
<rect x="180.5" y="298.5" width="0.85" height="0.85" fill="#1a1a1a"/>
<rect x="176.9" y="290.3" width="0.85" height="0.85" fill="#1a1a1a"/>
<rect x="185.3" y="297.0" width="0.85" height="0.85" fill="#1a1a1a"/>
<rect x="184.9" y="293.1" width="0.85" height="0.85" fill="#1a1a1a"/>
<rect x="170.1" y="289.5" width="0.85" height="0.85" fill="#1a1a1a"/>
<rect x="177.3" y="290.1" width="0.85" height="0.85" fill="#1a1a1a"/>
<rect x="184.5" y="290.8" width="0.85" height="0.85" fill="#1a1a1a"/>
<rect x="185.7" y="292.3" width="0.85" height="0.85" fill="#1a1a1a"/>
<rect x="201.7" y="292.5" width="0.85" height="0.85" fill="#1a1a1a"/>
<rect x="209.3" y="295.4" width="0.85" height="0.85" fill="#1a1a1a"/>
<rect x="200.2" y="291.1" width="0.85" height="0.85" fill="#1a1a1a"/>
<rect x="191.4" y="298.4" width="0.85" height="0.85" fill="#1a1a1a"/>
<rect x="219.5" y="291.3" width="0.85" height="0.85" fill="#1a1a1a"/>
<rect x="200.2" y="287.1" width="0.85" height="0.85" fill="#1a1a1a"/>
<rect x="206.7" y="292.8" width="0.85" height="0.85" fill="#1a1a1a"/>
<rect x="226.8" y="293.0" width="0.85" height="0.85" fill="#1a1a1a"/>
<rect x="197.2" y="282.2" width="0.85" height="0.85" fill="#1a1a1a"/>
<rect x="219.1" y="292.8" width="0.85" height="0.85" fill="#1a1a1a"/>
<rect x="188.9" y="292.7" width="0.85" height="0.85" fill="#1a1a1a"/>
<rect x="188.9" y="305.9" width="0.85" height="0.85" fill="#1a1a1a"/>
<rect x="216.2" y="294.3" width="0.85" height="0.85" fill="#1a1a1a"/>
<rect x="203.2" y="283.4" width="0.85" height="0.85" fill="#1a1a1a"/>
<rect x="203.7" y="285.8" width="0.85" height="0.85" fill="#1a1a1a"/>
<rect x="211.0" y="283.4" width="0.85" height="0.85" fill="#1a1a1a"/>
<rect x="195.9" y="296.9" width="0.85" height="0.85" fill="#1a1a1a"/>
<rect x="221.4" y="287.3" width="0.85" height="0.85" fill="#1a1a1a"/>
<rect x="189.7" y="295.5" width="0.85" height="0.85" fill="#1a1a1a"/>
<rect x="213.5" y="288.1" width="0.85" height="0.85" fill="#1a1a1a"/>
<rect x="198.1" y="289.2" width="0.85" height="0.85" fill="#1a1a1a"/>
<rect x="193.1" y="289.3" width="0.85" height="0.85" fill="#1a1a1a"/>
<rect x="217.5" y="294.8" width="0.85" height="0.85" fill="#1a1a1a"/>
<rect x="225.6" y="291.7" width="0.85" height="0.85" fill="#1a1a1a"/>
<rect x="203.6" y="288.1" width="0.85" height="0.85" fill="#1a1a1a"/>
<rect x="203.8" y="286.7" width="0.85" height="0.85" fill="#1a1a1a"/>
<rect x="187.2" y="294.8" width="0.85" height="0.85" fill="#1a1a1a"/>
<rect x="219.4" y="295.3" width="0.85" height="0.85" fill="#1a1a1a"/>
<rect x="218.3" y="293.0" width="0.85" height="0.85" fill="#1a1a1a"/>
<rect x="197.8" y="292.3" width="0.85" height="0.85" fill="#1a1a1a"/>
<rect x="183.1" y="300.6" width="0.85" height="0.85" fill="#1a1a1a"/>
<rect x="176.5" y="299.1" width="0.85" height="0.85" fill="#1a1a1a"/>
<rect x="185.0" y="305.6" width="0.85" height="0.85" fill="#1a1a1a"/>
<rect x="182.6" y="310.7" width="0.85" height="0.85" fill="#1a1a1a"/>
<rect x="185.9" y="307.3" width="0.85" height="0.85" fill="#1a1a1a"/>
<rect x="191.1" y="301.7" width="0.85" height="0.85" fill="#1a1a1a"/>
<rect x="175.2" y="308.0" width="0.85" height="0.85" fill="#1a1a1a"/>
<rect x="181.6" y="310.2" width="0.85" height="0.85" fill="#1a1a1a"/>
<text x="176.00" y="236.70" font-size="6.6" fill="#111" textLength="59.00" lengthAdjust="spacingAndGlyphs" stroke="#111" stroke-width="0.2">%hCD25+ of CD8+</text>
<text x="198.90" y="245.50" font-size="6.6" fill="#111" textLength="13.20" lengthAdjust="spacingAndGlyphs" stroke="#111" stroke-width="0.2">0.56</text>
<text x="194.60" y="304.20" font-size="6.6" fill="#111" textLength="58.80" lengthAdjust="spacingAndGlyphs" stroke="#111" stroke-width="0.2">%hCD69+ of CD8+</text>
<text x="218.10" y="312.30" font-size="6.6" fill="#111" textLength="13.10" lengthAdjust="spacingAndGlyphs" stroke="#111" stroke-width="0.2">32.0</text>
<rect x="281.1" y="226.6" width="91.29999999999995" height="91.00000000000003" fill="none" stroke="#333" stroke-width="0.9"/>
<line x1="281.1" y1="226.79999999999998" x2="291.1" y2="226.79999999999998" stroke="#999" stroke-width="1.6"/>
<line x1="308.3" y1="226.79999999999998" x2="372.4" y2="226.79999999999998" stroke="#222" stroke-width="1.5"/>
<rect x="308.3" y="227.1" width="62.5" height="55.00000000000003" fill="none" stroke="#333" stroke-width="0.9"/>
<rect x="308.3" y="282.1" width="62.5" height="33.19999999999999" fill="none" stroke="#333" stroke-width="0.9"/>
<line x1="281.10" y1="282.10" x2="308.30" y2="282.10" stroke="#333" stroke-width="0.9"/>
<line x1="275.60" y1="238.80" x2="281.10" y2="238.80" stroke="#1a1a1a" stroke-width="1.0"/>
<line x1="278.10" y1="231.76" x2="281.10" y2="231.76" stroke="#1a1a1a" stroke-width="0.7"/>
<line x1="278.10" y1="227.64" x2="281.10" y2="227.64" stroke="#1a1a1a" stroke-width="0.7"/>
<line x1="275.60" y1="262.20" x2="281.10" y2="262.20" stroke="#1a1a1a" stroke-width="1.0"/>
<line x1="278.10" y1="255.16" x2="281.10" y2="255.16" stroke="#1a1a1a" stroke-width="0.7"/>
<line x1="278.10" y1="251.04" x2="281.10" y2="251.04" stroke="#1a1a1a" stroke-width="0.7"/>
<line x1="278.10" y1="248.11" x2="281.10" y2="248.11" stroke="#1a1a1a" stroke-width="0.7"/>
<line x1="278.10" y1="245.84" x2="281.10" y2="245.84" stroke="#1a1a1a" stroke-width="0.7"/>
<line x1="278.10" y1="243.99" x2="281.10" y2="243.99" stroke="#1a1a1a" stroke-width="0.7"/>
<line x1="278.10" y1="242.42" x2="281.10" y2="242.42" stroke="#1a1a1a" stroke-width="0.7"/>
<line x1="278.10" y1="241.07" x2="281.10" y2="241.07" stroke="#1a1a1a" stroke-width="0.7"/>
<line x1="278.10" y1="239.87" x2="281.10" y2="239.87" stroke="#1a1a1a" stroke-width="0.7"/>
<line x1="275.60" y1="285.40" x2="281.10" y2="285.40" stroke="#1a1a1a" stroke-width="1.0"/>
<line x1="278.10" y1="278.36" x2="281.10" y2="278.36" stroke="#1a1a1a" stroke-width="0.7"/>
<line x1="278.10" y1="274.24" x2="281.10" y2="274.24" stroke="#1a1a1a" stroke-width="0.7"/>
<line x1="278.10" y1="271.31" x2="281.10" y2="271.31" stroke="#1a1a1a" stroke-width="0.7"/>
<line x1="278.10" y1="269.04" x2="281.10" y2="269.04" stroke="#1a1a1a" stroke-width="0.7"/>
<line x1="278.10" y1="267.19" x2="281.10" y2="267.19" stroke="#1a1a1a" stroke-width="0.7"/>
<line x1="278.10" y1="265.62" x2="281.10" y2="265.62" stroke="#1a1a1a" stroke-width="0.7"/>
<line x1="278.10" y1="264.27" x2="281.10" y2="264.27" stroke="#1a1a1a" stroke-width="0.7"/>
<line x1="278.10" y1="263.07" x2="281.10" y2="263.07" stroke="#1a1a1a" stroke-width="0.7"/>
<line x1="275.60" y1="306.80" x2="281.10" y2="306.80" stroke="#1a1a1a" stroke-width="1.0"/>
<line x1="278.10" y1="299.76" x2="281.10" y2="299.76" stroke="#1a1a1a" stroke-width="0.7"/>
<line x1="278.10" y1="295.64" x2="281.10" y2="295.64" stroke="#1a1a1a" stroke-width="0.7"/>
<line x1="278.10" y1="292.71" x2="281.10" y2="292.71" stroke="#1a1a1a" stroke-width="0.7"/>
<line x1="278.10" y1="290.44" x2="281.10" y2="290.44" stroke="#1a1a1a" stroke-width="0.7"/>
<line x1="278.10" y1="288.59" x2="281.10" y2="288.59" stroke="#1a1a1a" stroke-width="0.7"/>
<line x1="278.10" y1="287.02" x2="281.10" y2="287.02" stroke="#1a1a1a" stroke-width="0.7"/>
<line x1="278.10" y1="285.67" x2="281.10" y2="285.67" stroke="#1a1a1a" stroke-width="0.7"/>
<line x1="278.10" y1="284.47" x2="281.10" y2="284.47" stroke="#1a1a1a" stroke-width="0.7"/>
<line x1="278.10" y1="316.11" x2="281.10" y2="316.11" stroke="#1a1a1a" stroke-width="0.7"/>
<line x1="278.10" y1="313.84" x2="281.10" y2="313.84" stroke="#1a1a1a" stroke-width="0.7"/>
<line x1="278.10" y1="311.99" x2="281.10" y2="311.99" stroke="#1a1a1a" stroke-width="0.7"/>
<line x1="278.10" y1="310.42" x2="281.10" y2="310.42" stroke="#1a1a1a" stroke-width="0.7"/>
<line x1="278.10" y1="309.07" x2="281.10" y2="309.07" stroke="#1a1a1a" stroke-width="0.7"/>
<line x1="278.10" y1="307.87" x2="281.10" y2="307.87" stroke="#1a1a1a" stroke-width="0.7"/>
<line x1="277.10" y1="316.10" x2="281.10" y2="316.10" stroke="#1a1a1a" stroke-width="1.0"/>
<line x1="277.10" y1="314.10" x2="281.10" y2="314.10" stroke="#1a1a1a" stroke-width="1.0"/>
<line x1="277.10" y1="312.10" x2="281.10" y2="312.10" stroke="#1a1a1a" stroke-width="1.0"/>
<line x1="277.10" y1="310.10" x2="281.10" y2="310.10" stroke="#1a1a1a" stroke-width="1.0"/>
<line x1="277.10" y1="308.10" x2="281.10" y2="308.10" stroke="#1a1a1a" stroke-width="1.0"/>
<line x1="300.50" y1="317.60" x2="300.50" y2="321.90" stroke="#222" stroke-width="1.0"/>
<line x1="311.04" y1="317.60" x2="311.04" y2="320.40" stroke="#222" stroke-width="0.7"/>
<line x1="317.20" y1="317.60" x2="317.20" y2="320.40" stroke="#222" stroke-width="0.7"/>
<line x1="321.57" y1="317.60" x2="321.57" y2="320.40" stroke="#222" stroke-width="0.7"/>
<line x1="324.96" y1="317.60" x2="324.96" y2="320.40" stroke="#222" stroke-width="0.7"/>
<line x1="327.74" y1="317.60" x2="327.74" y2="320.40" stroke="#222" stroke-width="0.7"/>
<line x1="330.08" y1="317.60" x2="330.08" y2="320.40" stroke="#222" stroke-width="0.7"/>
<line x1="332.11" y1="317.60" x2="332.11" y2="320.40" stroke="#222" stroke-width="0.7"/>
<line x1="333.90" y1="317.60" x2="333.90" y2="320.40" stroke="#222" stroke-width="0.7"/>
<line x1="335.50" y1="317.60" x2="335.50" y2="321.90" stroke="#222" stroke-width="1.0"/>
<line x1="346.04" y1="317.60" x2="346.04" y2="320.40" stroke="#222" stroke-width="0.7"/>
<line x1="352.20" y1="317.60" x2="352.20" y2="320.40" stroke="#222" stroke-width="0.7"/>
<line x1="356.57" y1="317.60" x2="356.57" y2="320.40" stroke="#222" stroke-width="0.7"/>
<line x1="359.96" y1="317.60" x2="359.96" y2="320.40" stroke="#222" stroke-width="0.7"/>
<line x1="362.74" y1="317.60" x2="362.74" y2="320.40" stroke="#222" stroke-width="0.7"/>
<line x1="365.08" y1="317.60" x2="365.08" y2="320.40" stroke="#222" stroke-width="0.7"/>
<line x1="367.11" y1="317.60" x2="367.11" y2="320.40" stroke="#222" stroke-width="0.7"/>
<line x1="368.90" y1="317.60" x2="368.90" y2="320.40" stroke="#222" stroke-width="0.7"/>
<line x1="370.50" y1="317.60" x2="370.50" y2="321.90" stroke="#222" stroke-width="1.0"/>
<line x1="281.30" y1="317.60" x2="281.30" y2="321.10" stroke="#222" stroke-width="0.9"/>
<line x1="283.60" y1="317.60" x2="283.60" y2="321.10" stroke="#222" stroke-width="0.9"/>
<line x1="285.90" y1="317.60" x2="285.90" y2="321.10" stroke="#222" stroke-width="0.9"/>
<line x1="288.20" y1="317.60" x2="288.20" y2="321.10" stroke="#222" stroke-width="0.9"/>
<line x1="290.50" y1="317.60" x2="290.50" y2="321.10" stroke="#222" stroke-width="0.9"/>
<line x1="292.80" y1="317.60" x2="292.80" y2="321.10" stroke="#222" stroke-width="0.9"/>
<line x1="295.10" y1="317.60" x2="295.10" y2="321.10" stroke="#222" stroke-width="0.9"/>
<line x1="297.40" y1="317.60" x2="297.40" y2="321.10" stroke="#222" stroke-width="0.9"/>
<line x1="299.70" y1="317.60" x2="299.70" y2="321.10" stroke="#222" stroke-width="0.9"/>
<rect x="295.4" y="296.5" width="0.85" height="0.85" fill="#1a1a1a"/>
<rect x="298.3" y="279.6" width="0.85" height="0.85" fill="#1a1a1a"/>
<rect x="298.0" y="287.3" width="0.85" height="0.85" fill="#1a1a1a"/>
<rect x="287.7" y="288.6" width="0.85" height="0.85" fill="#1a1a1a"/>
<rect x="298.4" y="295.9" width="0.85" height="0.85" fill="#1a1a1a"/>
<rect x="300.1" y="281.9" width="0.85" height="0.85" fill="#1a1a1a"/>
<rect x="288.9" y="277.9" width="0.85" height="0.85" fill="#1a1a1a"/>
<rect x="292.3" y="294.3" width="0.85" height="0.85" fill="#1a1a1a"/>
<rect x="287.7" y="292.3" width="0.85" height="0.85" fill="#1a1a1a"/>
<rect x="294.6" y="296.5" width="0.85" height="0.85" fill="#1a1a1a"/>
<rect x="287.3" y="286.4" width="0.85" height="0.85" fill="#1a1a1a"/>
<rect x="287.7" y="300.6" width="0.85" height="0.85" fill="#1a1a1a"/>
<rect x="300.6" y="290.3" width="0.85" height="0.85" fill="#1a1a1a"/>
<rect x="294.6" y="291.6" width="0.85" height="0.85" fill="#1a1a1a"/>
<rect x="294.4" y="289.9" width="0.85" height="0.85" fill="#1a1a1a"/>
<rect x="290.7" y="284.1" width="0.85" height="0.85" fill="#1a1a1a"/>
<rect x="288.5" y="300.1" width="0.85" height="0.85" fill="#1a1a1a"/>
<rect x="296.8" y="291.4" width="0.85" height="0.85" fill="#1a1a1a"/>
<rect x="291.5" y="291.3" width="0.85" height="0.85" fill="#1a1a1a"/>
<rect x="295.5" y="287.4" width="0.85" height="0.85" fill="#1a1a1a"/>
<rect x="294.4" y="292.3" width="0.85" height="0.85" fill="#1a1a1a"/>
<rect x="287.8" y="286.7" width="0.85" height="0.85" fill="#1a1a1a"/>
<rect x="286.0" y="285.2" width="0.85" height="0.85" fill="#1a1a1a"/>
<rect x="299.2" y="278.0" width="0.85" height="0.85" fill="#1a1a1a"/>
<rect x="291.1" y="287.6" width="0.85" height="0.85" fill="#1a1a1a"/>
<rect x="288.7" y="291.5" width="0.85" height="0.85" fill="#1a1a1a"/>
<rect x="300.9" y="291.4" width="0.85" height="0.85" fill="#1a1a1a"/>
<rect x="292.0" y="287.6" width="0.85" height="0.85" fill="#1a1a1a"/>
<rect x="292.1" y="296.0" width="0.85" height="0.85" fill="#1a1a1a"/>
<rect x="290.2" y="284.7" width="0.85" height="0.85" fill="#1a1a1a"/>
<rect x="284.2" y="284.9" width="0.85" height="0.85" fill="#1a1a1a"/>
<rect x="283.3" y="297.0" width="0.85" height="0.85" fill="#1a1a1a"/>
<rect x="295.5" y="289.7" width="0.85" height="0.85" fill="#1a1a1a"/>
<rect x="303.2" y="287.4" width="0.85" height="0.85" fill="#1a1a1a"/>
<rect x="298.3" y="295.4" width="0.85" height="0.85" fill="#1a1a1a"/>
<rect x="282.2" y="282.4" width="0.85" height="0.85" fill="#1a1a1a"/>
<rect x="286.5" y="296.0" width="0.85" height="0.85" fill="#1a1a1a"/>
<rect x="302.1" y="284.2" width="0.85" height="0.85" fill="#1a1a1a"/>
<rect x="300.3" y="288.9" width="0.85" height="0.85" fill="#1a1a1a"/>
<rect x="290.2" y="288.0" width="0.85" height="0.85" fill="#1a1a1a"/>
<rect x="290.7" y="281.0" width="0.85" height="0.85" fill="#1a1a1a"/>
<rect x="286.0" y="284.2" width="0.85" height="0.85" fill="#1a1a1a"/>
<rect x="296.4" y="302.5" width="0.85" height="0.85" fill="#1a1a1a"/>
<rect x="312.1" y="289.1" width="0.85" height="0.85" fill="#1a1a1a"/>
<rect x="286.4" y="301.9" width="0.85" height="0.85" fill="#1a1a1a"/>
<rect x="297.0" y="287.0" width="0.85" height="0.85" fill="#1a1a1a"/>
<rect x="299.6" y="293.9" width="0.85" height="0.85" fill="#1a1a1a"/>
<rect x="291.3" y="291.1" width="0.85" height="0.85" fill="#1a1a1a"/>
<rect x="293.9" y="289.1" width="0.85" height="0.85" fill="#1a1a1a"/>
<rect x="294.3" y="287.8" width="0.85" height="0.85" fill="#1a1a1a"/>
<rect x="286.7" y="299.3" width="0.85" height="0.85" fill="#1a1a1a"/>
<rect x="295.5" y="293.4" width="0.85" height="0.85" fill="#1a1a1a"/>
<rect x="298.7" y="283.9" width="0.85" height="0.85" fill="#1a1a1a"/>
<rect x="300.7" y="288.9" width="0.85" height="0.85" fill="#1a1a1a"/>
<rect x="295.8" y="290.3" width="0.85" height="0.85" fill="#1a1a1a"/>
<rect x="294.5" y="297.6" width="0.85" height="0.85" fill="#1a1a1a"/>
<rect x="290.2" y="299.6" width="0.85" height="0.85" fill="#1a1a1a"/>
<rect x="287.5" y="285.9" width="0.85" height="0.85" fill="#1a1a1a"/>
<rect x="298.0" y="285.1" width="0.85" height="0.85" fill="#1a1a1a"/>
<rect x="290.4" y="296.0" width="0.85" height="0.85" fill="#1a1a1a"/>
<rect x="301.5" y="281.2" width="0.85" height="0.85" fill="#1a1a1a"/>
<rect x="296.5" y="301.4" width="0.85" height="0.85" fill="#1a1a1a"/>
<rect x="301.4" y="289.7" width="0.85" height="0.85" fill="#1a1a1a"/>
<rect x="288.8" y="289.4" width="0.85" height="0.85" fill="#1a1a1a"/>
<rect x="284.9" y="289.5" width="0.85" height="0.85" fill="#1a1a1a"/>
<rect x="291.7" y="290.2" width="0.85" height="0.85" fill="#1a1a1a"/>
<rect x="301.3" y="289.7" width="0.85" height="0.85" fill="#1a1a1a"/>
<rect x="282.8" y="296.8" width="0.85" height="0.85" fill="#1a1a1a"/>
<rect x="285.5" y="288.5" width="0.85" height="0.85" fill="#1a1a1a"/>
<rect x="292.1" y="289.1" width="0.85" height="0.85" fill="#1a1a1a"/>
<rect x="286.0" y="289.6" width="0.85" height="0.85" fill="#1a1a1a"/>
<rect x="308.3" y="287.7" width="0.85" height="0.85" fill="#1a1a1a"/>
<rect x="292.0" y="297.2" width="0.85" height="0.85" fill="#1a1a1a"/>
<rect x="298.2" y="295.2" width="0.85" height="0.85" fill="#1a1a1a"/>
<rect x="299.0" y="280.2" width="0.85" height="0.85" fill="#1a1a1a"/>
<rect x="287.0" y="291.7" width="0.85" height="0.85" fill="#1a1a1a"/>
<rect x="296.5" y="298.1" width="0.85" height="0.85" fill="#1a1a1a"/>
<rect x="296.3" y="289.7" width="0.85" height="0.85" fill="#1a1a1a"/>
<rect x="293.3" y="289.8" width="0.85" height="0.85" fill="#1a1a1a"/>
<rect x="294.7" y="294.7" width="0.85" height="0.85" fill="#1a1a1a"/>
<rect x="290.6" y="286.5" width="0.85" height="0.85" fill="#1a1a1a"/>
<rect x="287.0" y="297.0" width="0.85" height="0.85" fill="#1a1a1a"/>
<rect x="302.0" y="296.5" width="0.85" height="0.85" fill="#1a1a1a"/>
<rect x="299.0" y="295.6" width="0.85" height="0.85" fill="#1a1a1a"/>
<rect x="293.0" y="294.7" width="0.85" height="0.85" fill="#1a1a1a"/>
<rect x="285.6" y="289.9" width="0.85" height="0.85" fill="#1a1a1a"/>
<rect x="287.9" y="295.0" width="0.85" height="0.85" fill="#1a1a1a"/>
<rect x="288.9" y="290.4" width="0.85" height="0.85" fill="#1a1a1a"/>
<rect x="295.8" y="298.5" width="0.85" height="0.85" fill="#1a1a1a"/>
<rect x="287.5" y="285.8" width="0.85" height="0.85" fill="#1a1a1a"/>
<rect x="298.7" y="284.9" width="0.85" height="0.85" fill="#1a1a1a"/>
<rect x="296.2" y="287.9" width="0.85" height="0.85" fill="#1a1a1a"/>
<rect x="292.3" y="281.0" width="0.85" height="0.85" fill="#1a1a1a"/>
<rect x="298.0" y="288.2" width="0.85" height="0.85" fill="#1a1a1a"/>
<rect x="286.7" y="302.4" width="0.85" height="0.85" fill="#1a1a1a"/>
<rect x="298.0" y="310.3" width="0.85" height="0.85" fill="#1a1a1a"/>
<rect x="295.9" y="289.1" width="0.85" height="0.85" fill="#1a1a1a"/>
<rect x="293.8" y="299.8" width="0.85" height="0.85" fill="#1a1a1a"/>
<rect x="292.8" y="293.5" width="0.85" height="0.85" fill="#1a1a1a"/>
<rect x="296.6" y="286.0" width="0.85" height="0.85" fill="#1a1a1a"/>
<rect x="293.9" y="288.2" width="0.85" height="0.85" fill="#1a1a1a"/>
<rect x="284.3" y="295.8" width="0.85" height="0.85" fill="#1a1a1a"/>
<rect x="297.7" y="291.4" width="0.85" height="0.85" fill="#1a1a1a"/>
<rect x="286.6" y="280.0" width="0.85" height="0.85" fill="#1a1a1a"/>
<rect x="296.4" y="290.5" width="0.85" height="0.85" fill="#1a1a1a"/>
<rect x="282.4" y="290.9" width="0.85" height="0.85" fill="#1a1a1a"/>
<rect x="294.0" y="293.0" width="0.85" height="0.85" fill="#1a1a1a"/>
<rect x="294.5" y="291.9" width="0.85" height="0.85" fill="#1a1a1a"/>
<rect x="285.0" y="288.9" width="0.85" height="0.85" fill="#1a1a1a"/>
<rect x="289.4" y="289.7" width="0.85" height="0.85" fill="#1a1a1a"/>
<rect x="294.9" y="294.4" width="0.85" height="0.85" fill="#1a1a1a"/>
<rect x="304.4" y="276.9" width="0.85" height="0.85" fill="#1a1a1a"/>
<rect x="295.8" y="289.9" width="0.85" height="0.85" fill="#1a1a1a"/>
<rect x="308.9" y="296.1" width="0.85" height="0.85" fill="#1a1a1a"/>
<rect x="289.4" y="296.5" width="0.85" height="0.85" fill="#1a1a1a"/>
<rect x="285.6" y="290.4" width="0.85" height="0.85" fill="#1a1a1a"/>
<rect x="292.1" y="290.5" width="0.85" height="0.85" fill="#1a1a1a"/>
<rect x="288.9" y="280.9" width="0.85" height="0.85" fill="#1a1a1a"/>
<rect x="296.2" y="296.5" width="0.85" height="0.85" fill="#1a1a1a"/>
<rect x="292.5" y="285.4" width="0.85" height="0.85" fill="#1a1a1a"/>
<rect x="294.4" y="294.1" width="0.85" height="0.85" fill="#1a1a1a"/>
<rect x="291.8" y="290.9" width="0.85" height="0.85" fill="#1a1a1a"/>
<rect x="302.9" y="284.8" width="0.85" height="0.85" fill="#1a1a1a"/>
<rect x="289.1" y="280.5" width="0.85" height="0.85" fill="#1a1a1a"/>
<rect x="288.1" y="286.9" width="0.85" height="0.85" fill="#1a1a1a"/>
<rect x="286.3" y="287.2" width="0.85" height="0.85" fill="#1a1a1a"/>
<rect x="305.6" y="289.9" width="0.85" height="0.85" fill="#1a1a1a"/>
<rect x="292.2" y="303.1" width="0.85" height="0.85" fill="#1a1a1a"/>
<rect x="292.6" y="281.5" width="0.85" height="0.85" fill="#1a1a1a"/>
<rect x="295.8" y="285.8" width="0.85" height="0.85" fill="#1a1a1a"/>
<rect x="304.5" y="284.1" width="0.85" height="0.85" fill="#1a1a1a"/>
<rect x="288.9" y="282.2" width="0.85" height="0.85" fill="#1a1a1a"/>
<rect x="293.7" y="285.4" width="0.85" height="0.85" fill="#1a1a1a"/>
<rect x="292.5" y="288.9" width="0.85" height="0.85" fill="#1a1a1a"/>
<rect x="288.7" y="296.2" width="0.85" height="0.85" fill="#1a1a1a"/>
<rect x="299.5" y="291.3" width="0.85" height="0.85" fill="#1a1a1a"/>
<rect x="286.7" y="285.1" width="0.85" height="0.85" fill="#1a1a1a"/>
<rect x="294.9" y="304.1" width="0.85" height="0.85" fill="#1a1a1a"/>
<rect x="289.8" y="286.7" width="0.85" height="0.85" fill="#1a1a1a"/>
<rect x="288.1" y="285.0" width="0.85" height="0.85" fill="#1a1a1a"/>
<rect x="286.2" y="289.9" width="0.85" height="0.85" fill="#1a1a1a"/>
<rect x="303.0" y="291.0" width="0.85" height="0.85" fill="#1a1a1a"/>
<rect x="289.4" y="282.1" width="0.85" height="0.85" fill="#1a1a1a"/>
<rect x="294.5" y="290.9" width="0.85" height="0.85" fill="#1a1a1a"/>
<rect x="284.4" y="285.0" width="0.85" height="0.85" fill="#1a1a1a"/>
<rect x="292.7" y="296.6" width="0.85" height="0.85" fill="#1a1a1a"/>
<rect x="297.4" y="292.1" width="0.85" height="0.85" fill="#1a1a1a"/>
<rect x="290.7" y="292.8" width="0.85" height="0.85" fill="#1a1a1a"/>
<rect x="292.9" y="303.0" width="0.85" height="0.85" fill="#1a1a1a"/>
<rect x="285.1" y="289.0" width="0.85" height="0.85" fill="#1a1a1a"/>
<rect x="301.9" y="289.5" width="0.85" height="0.85" fill="#1a1a1a"/>
<rect x="303.0" y="290.8" width="0.85" height="0.85" fill="#1a1a1a"/>
<rect x="294.0" y="289.0" width="0.85" height="0.85" fill="#1a1a1a"/>
<rect x="283.3" y="285.7" width="0.85" height="0.85" fill="#1a1a1a"/>
<rect x="308.5" y="294.5" width="0.85" height="0.85" fill="#1a1a1a"/>
<rect x="297.2" y="296.2" width="0.85" height="0.85" fill="#1a1a1a"/>
<rect x="297.0" y="296.6" width="0.85" height="0.85" fill="#1a1a1a"/>
<rect x="291.1" y="289.8" width="0.85" height="0.85" fill="#1a1a1a"/>
<rect x="299.9" y="289.1" width="0.85" height="0.85" fill="#1a1a1a"/>
<rect x="283.7" y="289.8" width="0.85" height="0.85" fill="#1a1a1a"/>
<rect x="289.2" y="294.4" width="0.85" height="0.85" fill="#1a1a1a"/>
<rect x="288.0" y="285.2" width="0.85" height="0.85" fill="#1a1a1a"/>
<rect x="290.7" y="299.5" width="0.85" height="0.85" fill="#1a1a1a"/>
<rect x="292.7" y="291.9" width="0.85" height="0.85" fill="#1a1a1a"/>
<rect x="293.1" y="292.6" width="0.85" height="0.85" fill="#1a1a1a"/>
<rect x="299.5" y="298.7" width="0.85" height="0.85" fill="#1a1a1a"/>
<rect x="293.0" y="289.2" width="0.85" height="0.85" fill="#1a1a1a"/>
<rect x="309.8" y="290.1" width="0.85" height="0.85" fill="#1a1a1a"/>
<rect x="306.6" y="296.3" width="0.85" height="0.85" fill="#1a1a1a"/>
<rect x="285.8" y="293.7" width="0.85" height="0.85" fill="#1a1a1a"/>
<rect x="298.2" y="290.3" width="0.85" height="0.85" fill="#1a1a1a"/>
<rect x="291.7" y="284.9" width="0.85" height="0.85" fill="#1a1a1a"/>
<rect x="305.8" y="289.7" width="0.85" height="0.85" fill="#1a1a1a"/>
<rect x="290.2" y="289.4" width="0.85" height="0.85" fill="#1a1a1a"/>
<rect x="287.5" y="286.7" width="0.85" height="0.85" fill="#1a1a1a"/>
<rect x="293.7" y="292.7" width="0.85" height="0.85" fill="#1a1a1a"/>
<rect x="289.4" y="290.5" width="0.85" height="0.85" fill="#1a1a1a"/>
<rect x="283.3" y="293.9" width="0.85" height="0.85" fill="#1a1a1a"/>
<rect x="287.8" y="292.2" width="0.85" height="0.85" fill="#1a1a1a"/>
<rect x="286.7" y="288.2" width="0.85" height="0.85" fill="#1a1a1a"/>
<rect x="294.5" y="284.3" width="0.85" height="0.85" fill="#1a1a1a"/>
<rect x="310.3" y="290.8" width="0.85" height="0.85" fill="#1a1a1a"/>
<rect x="292.5" y="287.0" width="0.85" height="0.85" fill="#1a1a1a"/>
<rect x="304.2" y="298.6" width="0.85" height="0.85" fill="#1a1a1a"/>
<rect x="295.1" y="283.5" width="0.85" height="0.85" fill="#1a1a1a"/>
<rect x="289.5" y="294.4" width="0.85" height="0.85" fill="#1a1a1a"/>
<rect x="289.4" y="284.5" width="0.85" height="0.85" fill="#1a1a1a"/>
<rect x="284.7" y="286.8" width="0.85" height="0.85" fill="#1a1a1a"/>
<rect x="293.1" y="287.4" width="0.85" height="0.85" fill="#1a1a1a"/>
<rect x="293.1" y="306.4" width="0.85" height="0.85" fill="#1a1a1a"/>
<rect x="305.4" y="285.3" width="0.85" height="0.85" fill="#1a1a1a"/>
<rect x="295.4" y="291.5" width="0.85" height="0.85" fill="#1a1a1a"/>
<rect x="292.0" y="296.7" width="0.85" height="0.85" fill="#1a1a1a"/>
<rect x="290.7" y="289.2" width="0.85" height="0.85" fill="#1a1a1a"/>
<rect x="290.4" y="290.4" width="0.85" height="0.85" fill="#1a1a1a"/>
<rect x="302.0" y="295.3" width="0.85" height="0.85" fill="#1a1a1a"/>
<rect x="283.6" y="288.6" width="0.85" height="0.85" fill="#1a1a1a"/>
<rect x="287.4" y="295.5" width="0.85" height="0.85" fill="#1a1a1a"/>
<rect x="294.6" y="295.9" width="0.85" height="0.85" fill="#1a1a1a"/>
<rect x="292.6" y="280.5" width="0.85" height="0.85" fill="#1a1a1a"/>
<rect x="296.2" y="292.3" width="0.85" height="0.85" fill="#1a1a1a"/>
<rect x="296.6" y="283.8" width="0.85" height="0.85" fill="#1a1a1a"/>
<rect x="293.6" y="287.2" width="0.85" height="0.85" fill="#1a1a1a"/>
<rect x="288.2" y="292.9" width="0.85" height="0.85" fill="#1a1a1a"/>
<rect x="295.5" y="286.1" width="0.85" height="0.85" fill="#1a1a1a"/>
<rect x="289.0" y="297.2" width="0.85" height="0.85" fill="#1a1a1a"/>
<rect x="292.6" y="278.6" width="0.85" height="0.85" fill="#1a1a1a"/>
<rect x="287.0" y="293.3" width="0.85" height="0.85" fill="#1a1a1a"/>
<rect x="304.7" y="297.4" width="0.85" height="0.85" fill="#1a1a1a"/>
<rect x="295.6" y="292.1" width="0.85" height="0.85" fill="#1a1a1a"/>
<rect x="285.6" y="288.5" width="0.85" height="0.85" fill="#1a1a1a"/>
<rect x="290.7" y="286.7" width="0.85" height="0.85" fill="#1a1a1a"/>
<rect x="293.4" y="288.8" width="0.85" height="0.85" fill="#1a1a1a"/>
<rect x="295.4" y="298.9" width="0.85" height="0.85" fill="#1a1a1a"/>
<rect x="298.2" y="293.3" width="0.85" height="0.85" fill="#1a1a1a"/>
<rect x="291.3" y="282.6" width="0.85" height="0.85" fill="#1a1a1a"/>
<rect x="292.2" y="294.0" width="0.85" height="0.85" fill="#1a1a1a"/>
<rect x="285.9" y="297.9" width="0.85" height="0.85" fill="#1a1a1a"/>
<rect x="290.7" y="293.0" width="0.85" height="0.85" fill="#1a1a1a"/>
<rect x="290.7" y="284.1" width="0.85" height="0.85" fill="#1a1a1a"/>
<rect x="307.5" y="284.6" width="0.85" height="0.85" fill="#1a1a1a"/>
<rect x="299.4" y="287.9" width="0.85" height="0.85" fill="#1a1a1a"/>
<rect x="295.0" y="286.6" width="0.85" height="0.85" fill="#1a1a1a"/>
<rect x="290.1" y="296.1" width="0.85" height="0.85" fill="#1a1a1a"/>
<rect x="306.6" y="286.3" width="0.85" height="0.85" fill="#1a1a1a"/>
<rect x="293.1" y="296.2" width="0.85" height="0.85" fill="#1a1a1a"/>
<rect x="288.6" y="294.9" width="0.85" height="0.85" fill="#1a1a1a"/>
<rect x="287.5" y="294.3" width="0.85" height="0.85" fill="#1a1a1a"/>
<rect x="296.1" y="297.7" width="0.85" height="0.85" fill="#1a1a1a"/>
<rect x="295.5" y="284.4" width="0.85" height="0.85" fill="#1a1a1a"/>
<rect x="297.7" y="284.9" width="0.85" height="0.85" fill="#1a1a1a"/>
<rect x="298.3" y="299.3" width="0.85" height="0.85" fill="#1a1a1a"/>
<rect x="297.2" y="288.0" width="0.85" height="0.85" fill="#1a1a1a"/>
<rect x="301.3" y="291.9" width="0.85" height="0.85" fill="#1a1a1a"/>
<rect x="284.3" y="289.0" width="0.85" height="0.85" fill="#1a1a1a"/>
<rect x="302.9" y="289.3" width="0.85" height="0.85" fill="#1a1a1a"/>
<rect x="293.9" y="289.1" width="0.85" height="0.85" fill="#1a1a1a"/>
<rect x="295.5" y="292.1" width="0.85" height="0.85" fill="#1a1a1a"/>
<rect x="291.8" y="279.3" width="0.85" height="0.85" fill="#1a1a1a"/>
<rect x="301.6" y="295.0" width="0.85" height="0.85" fill="#1a1a1a"/>
<rect x="300.2" y="298.2" width="0.85" height="0.85" fill="#1a1a1a"/>
<rect x="289.9" y="287.7" width="0.85" height="0.85" fill="#1a1a1a"/>
<rect x="295.2" y="300.2" width="0.85" height="0.85" fill="#1a1a1a"/>
<rect x="288.0" y="294.1" width="0.85" height="0.85" fill="#1a1a1a"/>
<rect x="303.3" y="289.4" width="0.85" height="0.85" fill="#1a1a1a"/>
<rect x="284.3" y="291.3" width="0.85" height="0.85" fill="#1a1a1a"/>
<rect x="291.0" y="282.5" width="0.85" height="0.85" fill="#1a1a1a"/>
<rect x="299.2" y="288.1" width="0.85" height="0.85" fill="#1a1a1a"/>
<rect x="297.8" y="283.8" width="0.85" height="0.85" fill="#1a1a1a"/>
<rect x="300.7" y="283.1" width="0.85" height="0.85" fill="#1a1a1a"/>
<rect x="300.4" y="281.0" width="0.85" height="0.85" fill="#1a1a1a"/>
<rect x="302.7" y="288.9" width="0.85" height="0.85" fill="#1a1a1a"/>
<rect x="282.1" y="289.7" width="0.85" height="0.85" fill="#1a1a1a"/>
<rect x="295.4" y="285.6" width="0.85" height="0.85" fill="#1a1a1a"/>
<rect x="289.5" y="292.5" width="0.85" height="0.85" fill="#1a1a1a"/>
<rect x="291.8" y="274.1" width="0.85" height="0.85" fill="#1a1a1a"/>
<rect x="290.0" y="293.3" width="0.85" height="0.85" fill="#1a1a1a"/>
<rect x="295.1" y="296.5" width="0.85" height="0.85" fill="#1a1a1a"/>
<rect x="288.2" y="305.0" width="0.85" height="0.85" fill="#1a1a1a"/>
<rect x="298.6" y="292.7" width="0.85" height="0.85" fill="#1a1a1a"/>
<rect x="300.6" y="296.2" width="0.85" height="0.85" fill="#1a1a1a"/>
<rect x="293.7" y="287.6" width="0.85" height="0.85" fill="#1a1a1a"/>
<rect x="300.2" y="293.3" width="0.85" height="0.85" fill="#1a1a1a"/>
<rect x="296.3" y="291.6" width="0.85" height="0.85" fill="#1a1a1a"/>
<rect x="295.0" y="294.5" width="0.85" height="0.85" fill="#1a1a1a"/>
<rect x="294.0" y="299.7" width="0.85" height="0.85" fill="#1a1a1a"/>
<rect x="288.9" y="288.8" width="0.85" height="0.85" fill="#1a1a1a"/>
<rect x="295.3" y="295.1" width="0.85" height="0.85" fill="#1a1a1a"/>
<rect x="298.5" y="299.2" width="0.85" height="0.85" fill="#1a1a1a"/>
<rect x="289.7" y="297.4" width="0.85" height="0.85" fill="#1a1a1a"/>
<rect x="296.3" y="285.3" width="0.85" height="0.85" fill="#1a1a1a"/>
<rect x="292.0" y="302.5" width="0.85" height="0.85" fill="#1a1a1a"/>
<rect x="298.5" y="288.4" width="0.85" height="0.85" fill="#1a1a1a"/>
<rect x="288.1" y="291.4" width="0.85" height="0.85" fill="#1a1a1a"/>
<rect x="309.2" y="295.1" width="0.85" height="0.85" fill="#1a1a1a"/>
<rect x="295.2" y="285.9" width="0.85" height="0.85" fill="#1a1a1a"/>
<rect x="284.7" y="289.9" width="0.85" height="0.85" fill="#1a1a1a"/>
<rect x="289.7" y="307.5" width="0.85" height="0.85" fill="#1a1a1a"/>
<rect x="290.2" y="287.6" width="0.85" height="0.85" fill="#1a1a1a"/>
<rect x="300.9" y="291.4" width="0.85" height="0.85" fill="#1a1a1a"/>
<rect x="284.4" y="298.1" width="0.85" height="0.85" fill="#1a1a1a"/>
<rect x="290.8" y="283.7" width="0.85" height="0.85" fill="#1a1a1a"/>
<rect x="295.2" y="293.7" width="0.85" height="0.85" fill="#1a1a1a"/>
<rect x="290.6" y="294.8" width="0.85" height="0.85" fill="#1a1a1a"/>
<rect x="298.7" y="286.1" width="0.85" height="0.85" fill="#1a1a1a"/>
<rect x="292.1" y="297.8" width="0.85" height="0.85" fill="#1a1a1a"/>
<rect x="300.0" y="298.7" width="0.85" height="0.85" fill="#1a1a1a"/>
<rect x="306.0" y="291.1" width="0.85" height="0.85" fill="#1a1a1a"/>
<rect x="300.4" y="282.6" width="0.85" height="0.85" fill="#1a1a1a"/>
<rect x="297.8" y="293.2" width="0.85" height="0.85" fill="#1a1a1a"/>
<rect x="292.3" y="288.6" width="0.85" height="0.85" fill="#1a1a1a"/>
<rect x="285.2" y="291.8" width="0.85" height="0.85" fill="#1a1a1a"/>
<rect x="301.9" y="289.0" width="0.85" height="0.85" fill="#1a1a1a"/>
<rect x="296.7" y="287.3" width="0.85" height="0.85" fill="#1a1a1a"/>
<rect x="294.8" y="285.5" width="0.85" height="0.85" fill="#1a1a1a"/>
<rect x="295.6" y="289.8" width="0.85" height="0.85" fill="#1a1a1a"/>
<rect x="295.2" y="287.7" width="0.85" height="0.85" fill="#1a1a1a"/>
<rect x="284.8" y="289.2" width="0.85" height="0.85" fill="#1a1a1a"/>
<rect x="300.3" y="299.7" width="0.85" height="0.85" fill="#1a1a1a"/>
<rect x="290.7" y="295.4" width="0.85" height="0.85" fill="#1a1a1a"/>
<rect x="298.3" y="293.2" width="0.85" height="0.85" fill="#1a1a1a"/>
<rect x="282.1" y="292.8" width="0.85" height="0.85" fill="#1a1a1a"/>
<rect x="286.2" y="297.5" width="0.85" height="0.85" fill="#1a1a1a"/>
<rect x="298.5" y="294.4" width="0.85" height="0.85" fill="#1a1a1a"/>
<rect x="297.9" y="284.0" width="0.85" height="0.85" fill="#1a1a1a"/>
<rect x="299.8" y="291.4" width="0.85" height="0.85" fill="#1a1a1a"/>
<rect x="291.7" y="287.1" width="0.85" height="0.85" fill="#1a1a1a"/>
<rect x="285.9" y="288.6" width="0.85" height="0.85" fill="#1a1a1a"/>
<rect x="314.6" y="292.1" width="0.85" height="0.85" fill="#1a1a1a"/>
<rect x="294.5" y="287.4" width="0.85" height="0.85" fill="#1a1a1a"/>
<rect x="288.7" y="288.0" width="0.85" height="0.85" fill="#1a1a1a"/>
<rect x="286.8" y="295.8" width="0.85" height="0.85" fill="#1a1a1a"/>
<rect x="291.1" y="295.8" width="0.85" height="0.85" fill="#1a1a1a"/>
<rect x="284.9" y="296.1" width="0.85" height="0.85" fill="#1a1a1a"/>
<rect x="292.8" y="294.7" width="0.85" height="0.85" fill="#1a1a1a"/>
<rect x="292.3" y="286.1" width="0.85" height="0.85" fill="#1a1a1a"/>
<rect x="301.5" y="288.6" width="0.85" height="0.85" fill="#1a1a1a"/>
<rect x="292.0" y="286.1" width="0.85" height="0.85" fill="#1a1a1a"/>
<rect x="294.4" y="288.9" width="0.85" height="0.85" fill="#1a1a1a"/>
<rect x="295.0" y="292.9" width="0.85" height="0.85" fill="#1a1a1a"/>
<rect x="288.2" y="283.2" width="0.85" height="0.85" fill="#1a1a1a"/>
<rect x="296.0" y="296.0" width="0.85" height="0.85" fill="#1a1a1a"/>
<rect x="297.9" y="284.7" width="0.85" height="0.85" fill="#1a1a1a"/>
<rect x="297.2" y="293.1" width="0.85" height="0.85" fill="#1a1a1a"/>
<rect x="295.0" y="293.4" width="0.85" height="0.85" fill="#1a1a1a"/>
<rect x="290.7" y="292.2" width="0.85" height="0.85" fill="#1a1a1a"/>
<rect x="299.5" y="288.2" width="0.85" height="0.85" fill="#1a1a1a"/>
<rect x="282.9" y="290.4" width="0.85" height="0.85" fill="#1a1a1a"/>
<rect x="294.4" y="280.9" width="0.85" height="0.85" fill="#1a1a1a"/>
<rect x="288.3" y="294.2" width="0.85" height="0.85" fill="#1a1a1a"/>
<rect x="291.9" y="291.5" width="0.85" height="0.85" fill="#1a1a1a"/>
<rect x="284.2" y="296.0" width="0.85" height="0.85" fill="#1a1a1a"/>
<rect x="305.3" y="289.9" width="0.85" height="0.85" fill="#1a1a1a"/>
<rect x="287.9" y="284.6" width="0.85" height="0.85" fill="#1a1a1a"/>
<rect x="299.2" y="291.6" width="0.85" height="0.85" fill="#1a1a1a"/>
<rect x="287.4" y="297.7" width="0.85" height="0.85" fill="#1a1a1a"/>
<rect x="298.4" y="294.3" width="0.85" height="0.85" fill="#1a1a1a"/>
<rect x="297.4" y="284.3" width="0.85" height="0.85" fill="#1a1a1a"/>
<rect x="299.5" y="298.9" width="0.85" height="0.85" fill="#1a1a1a"/>
<rect x="300.2" y="287.0" width="0.85" height="0.85" fill="#1a1a1a"/>
<rect x="288.0" y="296.2" width="0.85" height="0.85" fill="#1a1a1a"/>
<rect x="300.0" y="297.8" width="0.85" height="0.85" fill="#1a1a1a"/>
<rect x="301.4" y="290.5" width="0.85" height="0.85" fill="#1a1a1a"/>
<rect x="290.1" y="280.8" width="0.85" height="0.85" fill="#1a1a1a"/>
<rect x="298.5" y="303.5" width="0.85" height="0.85" fill="#1a1a1a"/>
<rect x="289.8" y="288.4" width="0.85" height="0.85" fill="#1a1a1a"/>
<rect x="297.5" y="293.1" width="0.85" height="0.85" fill="#1a1a1a"/>
<rect x="283.4" y="287.1" width="0.85" height="0.85" fill="#1a1a1a"/>
<rect x="285.3" y="302.1" width="0.85" height="0.85" fill="#1a1a1a"/>
<rect x="288.0" y="295.7" width="0.85" height="0.85" fill="#1a1a1a"/>
<rect x="306.4" y="301.4" width="0.85" height="0.85" fill="#1a1a1a"/>
<rect x="303.0" y="300.0" width="0.85" height="0.85" fill="#1a1a1a"/>
<rect x="284.4" y="289.1" width="0.85" height="0.85" fill="#1a1a1a"/>
<rect x="287.9" y="289.4" width="0.85" height="0.85" fill="#1a1a1a"/>
<rect x="311.3" y="281.8" width="0.85" height="0.85" fill="#1a1a1a"/>
<rect x="296.9" y="284.2" width="0.85" height="0.85" fill="#1a1a1a"/>
<rect x="302.4" y="298.1" width="0.85" height="0.85" fill="#1a1a1a"/>
<rect x="289.4" y="302.4" width="0.85" height="0.85" fill="#1a1a1a"/>
<rect x="293.5" y="298.2" width="0.85" height="0.85" fill="#1a1a1a"/>
<rect x="295.2" y="287.9" width="0.85" height="0.85" fill="#1a1a1a"/>
<rect x="290.3" y="290.4" width="0.85" height="0.85" fill="#1a1a1a"/>
<rect x="297.3" y="291.7" width="0.85" height="0.85" fill="#1a1a1a"/>
<rect x="309.5" y="289.9" width="0.85" height="0.85" fill="#1a1a1a"/>
<rect x="289.7" y="287.0" width="0.85" height="0.85" fill="#1a1a1a"/>
<rect x="287.6" y="283.1" width="0.85" height="0.85" fill="#1a1a1a"/>
<rect x="286.1" y="296.0" width="0.85" height="0.85" fill="#1a1a1a"/>
<rect x="293.4" y="290.1" width="0.85" height="0.85" fill="#1a1a1a"/>
<rect x="295.5" y="296.9" width="0.85" height="0.85" fill="#1a1a1a"/>
<rect x="297.3" y="295.3" width="0.85" height="0.85" fill="#1a1a1a"/>
<rect x="289.1" y="289.6" width="0.85" height="0.85" fill="#1a1a1a"/>
<rect x="287.6" y="290.5" width="0.85" height="0.85" fill="#1a1a1a"/>
<rect x="287.3" y="289.0" width="0.85" height="0.85" fill="#1a1a1a"/>
<rect x="291.8" y="289.8" width="0.85" height="0.85" fill="#1a1a1a"/>
<rect x="291.1" y="288.3" width="0.85" height="0.85" fill="#1a1a1a"/>
<rect x="302.2" y="289.1" width="0.85" height="0.85" fill="#1a1a1a"/>
<rect x="285.9" y="292.1" width="0.85" height="0.85" fill="#1a1a1a"/>
<rect x="285.4" y="285.1" width="0.85" height="0.85" fill="#1a1a1a"/>
<rect x="293.6" y="281.8" width="0.85" height="0.85" fill="#1a1a1a"/>
<rect x="300.2" y="281.8" width="0.85" height="0.85" fill="#1a1a1a"/>
<rect x="286.7" y="294.2" width="0.85" height="0.85" fill="#1a1a1a"/>
<rect x="284.6" y="289.9" width="0.85" height="0.85" fill="#1a1a1a"/>
<rect x="292.0" y="292.7" width="0.85" height="0.85" fill="#1a1a1a"/>
<rect x="290.7" y="279.3" width="0.85" height="0.85" fill="#1a1a1a"/>
<rect x="291.9" y="283.6" width="0.85" height="0.85" fill="#1a1a1a"/>
<rect x="293.1" y="286.3" width="0.85" height="0.85" fill="#1a1a1a"/>
<rect x="290.8" y="289.8" width="0.85" height="0.85" fill="#1a1a1a"/>
<rect x="298.4" y="295.2" width="0.85" height="0.85" fill="#1a1a1a"/>
<rect x="286.0" y="290.9" width="0.85" height="0.85" fill="#1a1a1a"/>
<rect x="303.2" y="293.7" width="0.85" height="0.85" fill="#1a1a1a"/>
<rect x="287.9" y="290.3" width="0.85" height="0.85" fill="#1a1a1a"/>
<rect x="290.6" y="296.2" width="0.85" height="0.85" fill="#1a1a1a"/>
<rect x="293.2" y="293.1" width="0.85" height="0.85" fill="#1a1a1a"/>
<rect x="308.5" y="283.4" width="0.85" height="0.85" fill="#1a1a1a"/>
<rect x="285.9" y="281.5" width="0.85" height="0.85" fill="#1a1a1a"/>
<rect x="295.0" y="300.0" width="0.85" height="0.85" fill="#1a1a1a"/>
<rect x="303.1" y="296.7" width="0.85" height="0.85" fill="#1a1a1a"/>
<rect x="299.2" y="295.8" width="0.85" height="0.85" fill="#1a1a1a"/>
<rect x="293.2" y="290.9" width="0.85" height="0.85" fill="#1a1a1a"/>
<rect x="293.2" y="295.6" width="0.85" height="0.85" fill="#1a1a1a"/>
<rect x="291.9" y="292.8" width="0.85" height="0.85" fill="#1a1a1a"/>
<rect x="332.3" y="270.9" width="0.85" height="0.85" fill="#1a1a1a"/>
<rect x="301.5" y="286.1" width="0.85" height="0.85" fill="#1a1a1a"/>
<rect x="308.3" y="279.6" width="0.85" height="0.85" fill="#1a1a1a"/>
<rect x="341.4" y="284.7" width="0.85" height="0.85" fill="#1a1a1a"/>
<rect x="306.2" y="290.9" width="0.85" height="0.85" fill="#1a1a1a"/>
<rect x="347.2" y="271.0" width="0.85" height="0.85" fill="#1a1a1a"/>
<rect x="302.6" y="282.0" width="0.85" height="0.85" fill="#1a1a1a"/>
<rect x="303.1" y="300.5" width="0.85" height="0.85" fill="#1a1a1a"/>
<rect x="319.4" y="277.4" width="0.85" height="0.85" fill="#1a1a1a"/>
<rect x="318.9" y="273.8" width="0.85" height="0.85" fill="#1a1a1a"/>
<rect x="303.5" y="282.0" width="0.85" height="0.85" fill="#1a1a1a"/>
<rect x="345.4" y="260.7" width="0.85" height="0.85" fill="#1a1a1a"/>
<rect x="317.9" y="293.2" width="0.85" height="0.85" fill="#1a1a1a"/>
<rect x="322.4" y="298.3" width="0.85" height="0.85" fill="#1a1a1a"/>
<rect x="318.3" y="282.3" width="0.85" height="0.85" fill="#1a1a1a"/>
<rect x="310.2" y="273.3" width="0.85" height="0.85" fill="#1a1a1a"/>
<rect x="334.9" y="270.4" width="0.85" height="0.85" fill="#1a1a1a"/>
<rect x="310.3" y="276.3" width="0.85" height="0.85" fill="#1a1a1a"/>
<rect x="301.0" y="261.0" width="0.85" height="0.85" fill="#1a1a1a"/>
<rect x="306.7" y="282.2" width="0.85" height="0.85" fill="#1a1a1a"/>
<rect x="314.0" y="288.6" width="0.85" height="0.85" fill="#1a1a1a"/>
<rect x="309.7" y="275.2" width="0.85" height="0.85" fill="#1a1a1a"/>
<rect x="316.3" y="287.0" width="0.85" height="0.85" fill="#1a1a1a"/>
<rect x="299.3" y="267.3" width="0.85" height="0.85" fill="#1a1a1a"/>
<rect x="297.6" y="290.5" width="0.85" height="0.85" fill="#1a1a1a"/>
<rect x="326.0" y="273.0" width="0.85" height="0.85" fill="#1a1a1a"/>
<rect x="313.6" y="288.5" width="0.85" height="0.85" fill="#1a1a1a"/>
<rect x="330.6" y="275.1" width="0.85" height="0.85" fill="#1a1a1a"/>
<rect x="308.6" y="293.7" width="0.85" height="0.85" fill="#1a1a1a"/>
<rect x="345.8" y="294.8" width="0.85" height="0.85" fill="#1a1a1a"/>
<rect x="296.0" y="285.0" width="0.85" height="0.85" fill="#1a1a1a"/>
<rect x="307.8" y="280.5" width="0.85" height="0.85" fill="#1a1a1a"/>
<rect x="302.7" y="276.7" width="0.85" height="0.85" fill="#1a1a1a"/>
<rect x="311.9" y="297.2" width="0.85" height="0.85" fill="#1a1a1a"/>
<rect x="321.8" y="284.8" width="0.85" height="0.85" fill="#1a1a1a"/>
<rect x="312.4" y="274.2" width="0.85" height="0.85" fill="#1a1a1a"/>
<rect x="308.8" y="292.2" width="0.85" height="0.85" fill="#1a1a1a"/>
<rect x="323.6" y="298.7" width="0.85" height="0.85" fill="#1a1a1a"/>
<rect x="315.7" y="280.8" width="0.85" height="0.85" fill="#1a1a1a"/>
<rect x="289.3" y="284.6" width="0.85" height="0.85" fill="#1a1a1a"/>
<rect x="287.9" y="294.7" width="0.85" height="0.85" fill="#1a1a1a"/>
<rect x="303.2" y="281.0" width="0.85" height="0.85" fill="#1a1a1a"/>
<rect x="293.1" y="276.5" width="0.85" height="0.85" fill="#1a1a1a"/>
<rect x="299.0" y="291.2" width="0.85" height="0.85" fill="#1a1a1a"/>
<rect x="315.5" y="270.4" width="0.85" height="0.85" fill="#1a1a1a"/>
<rect x="285.0" y="280.4" width="0.85" height="0.85" fill="#1a1a1a"/>
<rect x="305.2" y="271.0" width="0.85" height="0.85" fill="#1a1a1a"/>
<rect x="320.3" y="279.3" width="0.85" height="0.85" fill="#1a1a1a"/>
<rect x="313.6" y="275.7" width="0.85" height="0.85" fill="#1a1a1a"/>
<rect x="304.0" y="276.9" width="0.85" height="0.85" fill="#1a1a1a"/>
<rect x="289.6" y="286.7" width="0.85" height="0.85" fill="#1a1a1a"/>
<rect x="317.6" y="265.5" width="0.85" height="0.85" fill="#1a1a1a"/>
<rect x="313.4" y="291.4" width="0.85" height="0.85" fill="#1a1a1a"/>
<rect x="315.3" y="292.7" width="0.85" height="0.85" fill="#1a1a1a"/>
<rect x="308.2" y="281.0" width="0.85" height="0.85" fill="#1a1a1a"/>
<rect x="293.8" y="272.9" width="0.85" height="0.85" fill="#1a1a1a"/>
<rect x="286.5" y="272.9" width="0.85" height="0.85" fill="#1a1a1a"/>
<rect x="315.4" y="285.7" width="0.85" height="0.85" fill="#1a1a1a"/>
<rect x="328.3" y="282.2" width="0.85" height="0.85" fill="#1a1a1a"/>
<rect x="298.1" y="284.9" width="0.85" height="0.85" fill="#1a1a1a"/>
<rect x="310.0" y="297.1" width="0.85" height="0.85" fill="#1a1a1a"/>
<rect x="339.4" y="289.6" width="0.85" height="0.85" fill="#1a1a1a"/>
<rect x="296.1" y="276.3" width="0.85" height="0.85" fill="#1a1a1a"/>
<rect x="314.7" y="274.6" width="0.85" height="0.85" fill="#1a1a1a"/>
<rect x="319.3" y="287.2" width="0.85" height="0.85" fill="#1a1a1a"/>
<rect x="323.7" y="283.1" width="0.85" height="0.85" fill="#1a1a1a"/>
<rect x="299.6" y="273.4" width="0.85" height="0.85" fill="#1a1a1a"/>
<rect x="310.3" y="292.9" width="0.85" height="0.85" fill="#1a1a1a"/>
<rect x="334.0" y="289.8" width="0.85" height="0.85" fill="#1a1a1a"/>
<rect x="317.1" y="287.1" width="0.85" height="0.85" fill="#1a1a1a"/>
<rect x="323.5" y="292.6" width="0.85" height="0.85" fill="#1a1a1a"/>
<rect x="324.0" y="267.2" width="0.85" height="0.85" fill="#1a1a1a"/>
<rect x="325.3" y="284.5" width="0.85" height="0.85" fill="#1a1a1a"/>
<rect x="305.6" y="285.7" width="0.85" height="0.85" fill="#1a1a1a"/>
<rect x="316.0" y="280.5" width="0.85" height="0.85" fill="#1a1a1a"/>
<rect x="288.4" y="282.0" width="0.85" height="0.85" fill="#1a1a1a"/>
<rect x="319.8" y="280.6" width="0.85" height="0.85" fill="#1a1a1a"/>
<rect x="289.8" y="285.1" width="0.85" height="0.85" fill="#1a1a1a"/>
<rect x="322.1" y="282.6" width="0.85" height="0.85" fill="#1a1a1a"/>
<rect x="318.0" y="277.8" width="0.85" height="0.85" fill="#1a1a1a"/>
<rect x="302.8" y="285.7" width="0.85" height="0.85" fill="#1a1a1a"/>
<rect x="307.0" y="282.6" width="0.85" height="0.85" fill="#1a1a1a"/>
<rect x="357.6" y="287.4" width="0.85" height="0.85" fill="#1a1a1a"/>
<rect x="313.9" y="266.4" width="0.85" height="0.85" fill="#1a1a1a"/>
<rect x="313.3" y="287.8" width="0.85" height="0.85" fill="#1a1a1a"/>
<rect x="302.1" y="278.9" width="0.85" height="0.85" fill="#1a1a1a"/>
<rect x="303.7" y="287.2" width="0.85" height="0.85" fill="#1a1a1a"/>
<rect x="331.1" y="279.5" width="0.85" height="0.85" fill="#1a1a1a"/>
<rect x="325.8" y="283.3" width="0.85" height="0.85" fill="#1a1a1a"/>
<rect x="309.1" y="278.5" width="0.85" height="0.85" fill="#1a1a1a"/>
<rect x="300.1" y="292.6" width="0.85" height="0.85" fill="#1a1a1a"/>
<rect x="324.3" y="271.9" width="0.85" height="0.85" fill="#1a1a1a"/>
<rect x="323.8" y="274.4" width="0.85" height="0.85" fill="#1a1a1a"/>
<rect x="290.9" y="291.8" width="0.85" height="0.85" fill="#1a1a1a"/>
<rect x="294.1" y="291.7" width="0.85" height="0.85" fill="#1a1a1a"/>
<rect x="314.8" y="289.1" width="0.85" height="0.85" fill="#1a1a1a"/>
<rect x="319.2" y="291.4" width="0.85" height="0.85" fill="#1a1a1a"/>
<rect x="316.9" y="286.2" width="0.85" height="0.85" fill="#1a1a1a"/>
<rect x="315.5" y="290.9" width="0.85" height="0.85" fill="#1a1a1a"/>
<rect x="306.5" y="290.1" width="0.85" height="0.85" fill="#1a1a1a"/>
<rect x="333.1" y="280.4" width="0.85" height="0.85" fill="#1a1a1a"/>
<rect x="318.2" y="276.4" width="0.85" height="0.85" fill="#1a1a1a"/>
<rect x="308.0" y="283.3" width="0.85" height="0.85" fill="#1a1a1a"/>
<rect x="307.2" y="273.0" width="0.85" height="0.85" fill="#1a1a1a"/>
<rect x="311.6" y="282.7" width="0.85" height="0.85" fill="#1a1a1a"/>
<rect x="316.5" y="287.4" width="0.85" height="0.85" fill="#1a1a1a"/>
<rect x="287.2" y="293.7" width="0.85" height="0.85" fill="#1a1a1a"/>
<rect x="309.6" y="274.1" width="0.85" height="0.85" fill="#1a1a1a"/>
<rect x="306.8" y="285.0" width="0.85" height="0.85" fill="#1a1a1a"/>
<rect x="324.2" y="277.7" width="0.85" height="0.85" fill="#1a1a1a"/>
<rect x="314.2" y="266.6" width="0.85" height="0.85" fill="#1a1a1a"/>
<rect x="314.4" y="280.0" width="0.85" height="0.85" fill="#1a1a1a"/>
<rect x="306.0" y="289.0" width="0.85" height="0.85" fill="#1a1a1a"/>
<rect x="337.1" y="290.3" width="0.85" height="0.85" fill="#1a1a1a"/>
<rect x="301.1" y="294.8" width="0.85" height="0.85" fill="#1a1a1a"/>
<rect x="307.3" y="280.6" width="0.85" height="0.85" fill="#1a1a1a"/>
<rect x="303.9" y="285.1" width="0.85" height="0.85" fill="#1a1a1a"/>
<rect x="319.7" y="282.3" width="0.85" height="0.85" fill="#1a1a1a"/>
<rect x="309.1" y="279.7" width="0.85" height="0.85" fill="#1a1a1a"/>
<rect x="306.4" y="289.7" width="0.85" height="0.85" fill="#1a1a1a"/>
<rect x="304.7" y="279.7" width="0.85" height="0.85" fill="#1a1a1a"/>
<rect x="309.1" y="274.3" width="0.85" height="0.85" fill="#1a1a1a"/>
<rect x="308.8" y="267.8" width="0.85" height="0.85" fill="#1a1a1a"/>
<rect x="317.7" y="285.9" width="0.85" height="0.85" fill="#1a1a1a"/>
<rect x="307.8" y="295.0" width="0.85" height="0.85" fill="#1a1a1a"/>
<rect x="300.5" y="286.0" width="0.85" height="0.85" fill="#1a1a1a"/>
<rect x="318.7" y="276.2" width="0.85" height="0.85" fill="#1a1a1a"/>
<rect x="308.6" y="289.0" width="0.85" height="0.85" fill="#1a1a1a"/>
<rect x="312.9" y="283.5" width="0.85" height="0.85" fill="#1a1a1a"/>
<rect x="331.5" y="282.9" width="0.85" height="0.85" fill="#1a1a1a"/>
<rect x="288.7" y="274.4" width="0.85" height="0.85" fill="#1a1a1a"/>
<rect x="323.6" y="279.8" width="0.85" height="0.85" fill="#1a1a1a"/>
<rect x="297.0" y="263.3" width="0.85" height="0.85" fill="#1a1a1a"/>
<rect x="316.5" y="294.5" width="0.85" height="0.85" fill="#1a1a1a"/>
<rect x="294.5" y="261.6" width="0.85" height="0.85" fill="#1a1a1a"/>
<rect x="318.9" y="276.2" width="0.85" height="0.85" fill="#1a1a1a"/>
<rect x="307.9" y="278.1" width="0.85" height="0.85" fill="#1a1a1a"/>
<rect x="299.4" y="284.9" width="0.85" height="0.85" fill="#1a1a1a"/>
<rect x="324.8" y="284.3" width="0.85" height="0.85" fill="#1a1a1a"/>
<rect x="304.3" y="290.3" width="0.85" height="0.85" fill="#1a1a1a"/>
<rect x="310.5" y="286.2" width="0.85" height="0.85" fill="#1a1a1a"/>
<rect x="299.0" y="286.9" width="0.85" height="0.85" fill="#1a1a1a"/>
<rect x="322.3" y="292.5" width="0.85" height="0.85" fill="#1a1a1a"/>
<rect x="312.4" y="285.0" width="0.85" height="0.85" fill="#1a1a1a"/>
<rect x="304.0" y="288.9" width="0.85" height="0.85" fill="#1a1a1a"/>
<rect x="322.8" y="290.7" width="0.85" height="0.85" fill="#1a1a1a"/>
<rect x="306.7" y="270.1" width="0.85" height="0.85" fill="#1a1a1a"/>
<rect x="311.1" y="279.2" width="0.85" height="0.85" fill="#1a1a1a"/>
<rect x="301.7" y="286.4" width="0.85" height="0.85" fill="#1a1a1a"/>
<rect x="325.2" y="284.5" width="0.85" height="0.85" fill="#1a1a1a"/>
<rect x="327.4" y="284.5" width="0.85" height="0.85" fill="#1a1a1a"/>
<rect x="298.5" y="275.8" width="0.85" height="0.85" fill="#1a1a1a"/>
<rect x="307.1" y="287.1" width="0.85" height="0.85" fill="#1a1a1a"/>
<rect x="324.8" y="282.2" width="0.85" height="0.85" fill="#1a1a1a"/>
<rect x="326.1" y="273.7" width="0.85" height="0.85" fill="#1a1a1a"/>
<rect x="310.4" y="294.3" width="0.85" height="0.85" fill="#1a1a1a"/>
<rect x="318.2" y="290.3" width="0.85" height="0.85" fill="#1a1a1a"/>
<rect x="285.9" y="266.2" width="0.85" height="0.85" fill="#1a1a1a"/>
<rect x="300.1" y="290.0" width="0.85" height="0.85" fill="#1a1a1a"/>
<rect x="334.5" y="275.5" width="0.85" height="0.85" fill="#1a1a1a"/>
<rect x="298.4" y="272.0" width="0.85" height="0.85" fill="#1a1a1a"/>
<rect x="299.7" y="286.0" width="0.85" height="0.85" fill="#1a1a1a"/>
<rect x="307.7" y="297.7" width="0.85" height="0.85" fill="#1a1a1a"/>
<rect x="322.0" y="274.9" width="0.85" height="0.85" fill="#1a1a1a"/>
<rect x="315.3" y="279.7" width="0.85" height="0.85" fill="#1a1a1a"/>
<rect x="322.9" y="289.1" width="0.85" height="0.85" fill="#1a1a1a"/>
<rect x="307.2" y="288.9" width="0.85" height="0.85" fill="#1a1a1a"/>
<rect x="319.9" y="280.3" width="0.85" height="0.85" fill="#1a1a1a"/>
<rect x="315.6" y="287.1" width="0.85" height="0.85" fill="#1a1a1a"/>
<rect x="307.7" y="275.0" width="0.85" height="0.85" fill="#1a1a1a"/>
<rect x="329.5" y="281.1" width="0.85" height="0.85" fill="#1a1a1a"/>
<rect x="303.9" y="285.1" width="0.85" height="0.85" fill="#1a1a1a"/>
<rect x="291.7" y="281.5" width="0.85" height="0.85" fill="#1a1a1a"/>
<rect x="293.3" y="277.2" width="0.85" height="0.85" fill="#1a1a1a"/>
<rect x="287.5" y="274.7" width="0.85" height="0.85" fill="#1a1a1a"/>
<rect x="324.4" y="279.4" width="0.85" height="0.85" fill="#1a1a1a"/>
<rect x="295.3" y="296.4" width="0.85" height="0.85" fill="#1a1a1a"/>
<rect x="303.4" y="294.2" width="0.85" height="0.85" fill="#1a1a1a"/>
<rect x="304.8" y="268.1" width="0.85" height="0.85" fill="#1a1a1a"/>
<rect x="337.4" y="277.2" width="0.85" height="0.85" fill="#1a1a1a"/>
<rect x="322.5" y="291.6" width="0.85" height="0.85" fill="#1a1a1a"/>
<rect x="294.0" y="281.7" width="0.85" height="0.85" fill="#1a1a1a"/>
<rect x="304.2" y="286.4" width="0.85" height="0.85" fill="#1a1a1a"/>
<rect x="311.9" y="269.9" width="0.85" height="0.85" fill="#1a1a1a"/>
<rect x="312.9" y="287.8" width="0.85" height="0.85" fill="#1a1a1a"/>
<rect x="308.0" y="286.0" width="0.85" height="0.85" fill="#1a1a1a"/>
<rect x="304.8" y="280.6" width="0.85" height="0.85" fill="#1a1a1a"/>
<rect x="316.9" y="282.3" width="0.85" height="0.85" fill="#1a1a1a"/>
<rect x="329.5" y="289.4" width="0.85" height="0.85" fill="#1a1a1a"/>
<rect x="323.7" y="287.4" width="0.85" height="0.85" fill="#1a1a1a"/>
<rect x="314.2" y="270.8" width="0.85" height="0.85" fill="#1a1a1a"/>
<rect x="326.7" y="296.4" width="0.85" height="0.85" fill="#1a1a1a"/>
<rect x="315.2" y="278.8" width="0.85" height="0.85" fill="#1a1a1a"/>
<rect x="311.6" y="291.7" width="0.85" height="0.85" fill="#1a1a1a"/>
<rect x="316.0" y="272.4" width="0.85" height="0.85" fill="#1a1a1a"/>
<rect x="309.7" y="274.3" width="0.85" height="0.85" fill="#1a1a1a"/>
<rect x="309.3" y="273.2" width="0.85" height="0.85" fill="#1a1a1a"/>
<rect x="300.1" y="294.1" width="0.85" height="0.85" fill="#1a1a1a"/>
<rect x="326.5" y="266.9" width="0.85" height="0.85" fill="#1a1a1a"/>
<rect x="298.7" y="277.1" width="0.85" height="0.85" fill="#1a1a1a"/>
<rect x="306.8" y="268.9" width="0.85" height="0.85" fill="#1a1a1a"/>
<rect x="324.3" y="266.9" width="0.85" height="0.85" fill="#1a1a1a"/>
<rect x="321.6" y="287.2" width="0.85" height="0.85" fill="#1a1a1a"/>
<rect x="307.1" y="275.3" width="0.85" height="0.85" fill="#1a1a1a"/>
<rect x="312.9" y="282.4" width="0.85" height="0.85" fill="#1a1a1a"/>
<rect x="283.4" y="270.0" width="0.85" height="0.85" fill="#1a1a1a"/>
<rect x="319.4" y="280.1" width="0.85" height="0.85" fill="#1a1a1a"/>
<rect x="306.4" y="272.3" width="0.85" height="0.85" fill="#1a1a1a"/>
<rect x="302.5" y="274.3" width="0.85" height="0.85" fill="#1a1a1a"/>
<rect x="350.3" y="270.0" width="0.85" height="0.85" fill="#1a1a1a"/>
<rect x="333.1" y="285.3" width="0.85" height="0.85" fill="#1a1a1a"/>
<rect x="315.0" y="282.8" width="0.85" height="0.85" fill="#1a1a1a"/>
<rect x="306.9" y="295.2" width="0.85" height="0.85" fill="#1a1a1a"/>
<rect x="319.1" y="280.8" width="0.85" height="0.85" fill="#1a1a1a"/>
<rect x="310.4" y="282.8" width="0.85" height="0.85" fill="#1a1a1a"/>
<rect x="296.5" y="278.3" width="0.85" height="0.85" fill="#1a1a1a"/>
<rect x="303.6" y="286.5" width="0.85" height="0.85" fill="#1a1a1a"/>
<rect x="320.3" y="264.7" width="0.85" height="0.85" fill="#1a1a1a"/>
<rect x="309.1" y="289.8" width="0.85" height="0.85" fill="#1a1a1a"/>
<rect x="294.4" y="270.7" width="0.85" height="0.85" fill="#1a1a1a"/>
<rect x="325.8" y="279.9" width="0.85" height="0.85" fill="#1a1a1a"/>
<rect x="305.9" y="270.4" width="0.85" height="0.85" fill="#1a1a1a"/>
<rect x="314.4" y="276.2" width="0.85" height="0.85" fill="#1a1a1a"/>
<rect x="315.0" y="284.8" width="0.85" height="0.85" fill="#1a1a1a"/>
<rect x="321.7" y="278.2" width="0.85" height="0.85" fill="#1a1a1a"/>
<rect x="304.9" y="281.3" width="0.85" height="0.85" fill="#1a1a1a"/>
<rect x="310.8" y="282.6" width="0.85" height="0.85" fill="#1a1a1a"/>
<rect x="304.9" y="279.0" width="0.85" height="0.85" fill="#1a1a1a"/>
<rect x="304.1" y="275.9" width="0.85" height="0.85" fill="#1a1a1a"/>
<rect x="314.3" y="291.2" width="0.85" height="0.85" fill="#1a1a1a"/>
<rect x="304.8" y="286.2" width="0.85" height="0.85" fill="#1a1a1a"/>
<rect x="316.8" y="282.0" width="0.85" height="0.85" fill="#1a1a1a"/>
<rect x="321.4" y="276.2" width="0.85" height="0.85" fill="#1a1a1a"/>
<rect x="319.8" y="283.7" width="0.85" height="0.85" fill="#1a1a1a"/>
<rect x="320.3" y="298.3" width="0.85" height="0.85" fill="#1a1a1a"/>
<rect x="297.6" y="281.9" width="0.85" height="0.85" fill="#1a1a1a"/>
<rect x="316.9" y="272.5" width="0.85" height="0.85" fill="#1a1a1a"/>
<rect x="328.6" y="285.0" width="0.85" height="0.85" fill="#1a1a1a"/>
<rect x="301.2" y="270.5" width="0.85" height="0.85" fill="#1a1a1a"/>
<rect x="306.4" y="302.0" width="0.85" height="0.85" fill="#1a1a1a"/>
<rect x="341.7" y="259.3" width="0.85" height="0.85" fill="#1a1a1a"/>
<rect x="287.2" y="287.0" width="0.85" height="0.85" fill="#1a1a1a"/>
<rect x="310.6" y="275.5" width="0.85" height="0.85" fill="#1a1a1a"/>
<rect x="320.4" y="281.9" width="0.85" height="0.85" fill="#1a1a1a"/>
<rect x="316.0" y="283.4" width="0.85" height="0.85" fill="#1a1a1a"/>
<rect x="297.2" y="292.7" width="0.85" height="0.85" fill="#1a1a1a"/>
<rect x="305.8" y="291.1" width="0.85" height="0.85" fill="#1a1a1a"/>
<rect x="321.6" y="281.4" width="0.85" height="0.85" fill="#1a1a1a"/>
<rect x="314.0" y="280.7" width="0.85" height="0.85" fill="#1a1a1a"/>
<rect x="286.9" y="278.2" width="0.85" height="0.85" fill="#1a1a1a"/>
<rect x="318.0" y="266.8" width="0.85" height="0.85" fill="#1a1a1a"/>
<rect x="291.6" y="290.6" width="0.85" height="0.85" fill="#1a1a1a"/>
<rect x="323.2" y="267.4" width="0.85" height="0.85" fill="#1a1a1a"/>
<rect x="318.4" y="280.6" width="0.85" height="0.85" fill="#1a1a1a"/>
<rect x="325.5" y="278.2" width="0.85" height="0.85" fill="#1a1a1a"/>
<rect x="309.1" y="274.4" width="0.85" height="0.85" fill="#1a1a1a"/>
<rect x="314.6" y="279.9" width="0.85" height="0.85" fill="#1a1a1a"/>
<rect x="303.1" y="278.0" width="0.85" height="0.85" fill="#1a1a1a"/>
<rect x="327.0" y="274.3" width="0.85" height="0.85" fill="#1a1a1a"/>
<rect x="322.9" y="259.3" width="0.85" height="0.85" fill="#1a1a1a"/>
<rect x="323.9" y="277.5" width="0.85" height="0.85" fill="#1a1a1a"/>
<rect x="330.6" y="274.5" width="0.85" height="0.85" fill="#1a1a1a"/>
<rect x="348.9" y="266.5" width="0.85" height="0.85" fill="#1a1a1a"/>
<rect x="349.2" y="273.5" width="0.85" height="0.85" fill="#1a1a1a"/>
<rect x="337.5" y="265.2" width="0.85" height="0.85" fill="#1a1a1a"/>
<rect x="337.2" y="261.2" width="0.85" height="0.85" fill="#1a1a1a"/>
<rect x="334.0" y="266.0" width="0.85" height="0.85" fill="#1a1a1a"/>
<rect x="344.6" y="272.4" width="0.85" height="0.85" fill="#1a1a1a"/>
<rect x="328.6" y="276.0" width="0.85" height="0.85" fill="#1a1a1a"/>
<rect x="355.7" y="270.5" width="0.85" height="0.85" fill="#1a1a1a"/>
<rect x="327.2" y="273.5" width="0.85" height="0.85" fill="#1a1a1a"/>
<rect x="302.0" y="266.0" width="0.85" height="0.85" fill="#1a1a1a"/>
<rect x="346.7" y="283.8" width="0.85" height="0.85" fill="#1a1a1a"/>
<rect x="327.2" y="280.6" width="0.85" height="0.85" fill="#1a1a1a"/>
<rect x="303.2" y="277.6" width="0.85" height="0.85" fill="#1a1a1a"/>
<rect x="340.9" y="277.0" width="0.85" height="0.85" fill="#1a1a1a"/>
<rect x="335.4" y="265.8" width="0.85" height="0.85" fill="#1a1a1a"/>
<rect x="334.7" y="280.4" width="0.85" height="0.85" fill="#1a1a1a"/>
<rect x="350.5" y="268.0" width="0.85" height="0.85" fill="#1a1a1a"/>
<rect x="343.7" y="276.0" width="0.85" height="0.85" fill="#1a1a1a"/>
<rect x="346.5" y="269.7" width="0.85" height="0.85" fill="#1a1a1a"/>
<rect x="328.3" y="264.9" width="0.85" height="0.85" fill="#1a1a1a"/>
<rect x="331.6" y="266.2" width="0.85" height="0.85" fill="#1a1a1a"/>
<rect x="314.6" y="260.2" width="0.85" height="0.85" fill="#1a1a1a"/>
<rect x="351.1" y="262.3" width="0.85" height="0.85" fill="#1a1a1a"/>
<rect x="318.6" y="269.7" width="0.85" height="0.85" fill="#1a1a1a"/>
<rect x="359.6" y="278.8" width="0.85" height="0.85" fill="#1a1a1a"/>
<rect x="331.9" y="262.9" width="0.85" height="0.85" fill="#1a1a1a"/>
<rect x="330.1" y="263.7" width="0.85" height="0.85" fill="#1a1a1a"/>
<rect x="329.9" y="273.4" width="0.85" height="0.85" fill="#1a1a1a"/>
<rect x="322.2" y="264.6" width="0.85" height="0.85" fill="#1a1a1a"/>
<rect x="334.2" y="269.8" width="0.85" height="0.85" fill="#1a1a1a"/>
<rect x="326.6" y="264.5" width="0.85" height="0.85" fill="#1a1a1a"/>
<rect x="321.2" y="264.8" width="0.85" height="0.85" fill="#1a1a1a"/>
<rect x="345.8" y="268.3" width="0.85" height="0.85" fill="#1a1a1a"/>
<rect x="291.7" y="274.3" width="0.85" height="0.85" fill="#1a1a1a"/>
<rect x="337.0" y="264.0" width="0.85" height="0.85" fill="#1a1a1a"/>
<rect x="334.2" y="249.0" width="0.85" height="0.85" fill="#1a1a1a"/>
<rect x="313.4" y="278.1" width="0.85" height="0.85" fill="#1a1a1a"/>
<rect x="369.9" y="285.2" width="0.85" height="0.85" fill="#1a1a1a"/>
<rect x="327.1" y="270.3" width="0.85" height="0.85" fill="#1a1a1a"/>
<rect x="349.7" y="261.5" width="0.85" height="0.85" fill="#1a1a1a"/>
<rect x="364.1" y="265.0" width="0.85" height="0.85" fill="#1a1a1a"/>
<rect x="343.3" y="262.0" width="0.85" height="0.85" fill="#1a1a1a"/>
<rect x="343.5" y="269.9" width="0.85" height="0.85" fill="#1a1a1a"/>
<rect x="354.2" y="262.0" width="0.85" height="0.85" fill="#1a1a1a"/>
<rect x="337.9" y="282.7" width="0.85" height="0.85" fill="#1a1a1a"/>
<rect x="320.2" y="272.5" width="0.85" height="0.85" fill="#1a1a1a"/>
<rect x="344.6" y="266.5" width="0.85" height="0.85" fill="#1a1a1a"/>
<rect x="334.0" y="279.9" width="0.85" height="0.85" fill="#1a1a1a"/>
<rect x="355.1" y="274.0" width="0.85" height="0.85" fill="#1a1a1a"/>
<rect x="342.0" y="262.1" width="0.85" height="0.85" fill="#1a1a1a"/>
<rect x="339.4" y="282.5" width="0.85" height="0.85" fill="#1a1a1a"/>
<rect x="353.8" y="260.5" width="0.85" height="0.85" fill="#1a1a1a"/>
<rect x="307.0" y="265.4" width="0.85" height="0.85" fill="#1a1a1a"/>
<rect x="340.5" y="266.2" width="0.85" height="0.85" fill="#1a1a1a"/>
<rect x="333.4" y="272.4" width="0.85" height="0.85" fill="#1a1a1a"/>
<rect x="351.5" y="271.5" width="0.85" height="0.85" fill="#1a1a1a"/>
<rect x="356.8" y="260.0" width="0.85" height="0.85" fill="#1a1a1a"/>
<rect x="345.0" y="273.0" width="0.85" height="0.85" fill="#1a1a1a"/>
<rect x="315.7" y="278.8" width="0.85" height="0.85" fill="#1a1a1a"/>
<rect x="314.0" y="259.9" width="0.85" height="0.85" fill="#1a1a1a"/>
<rect x="343.7" y="279.5" width="0.85" height="0.85" fill="#1a1a1a"/>
<rect x="355.3" y="262.1" width="0.85" height="0.85" fill="#1a1a1a"/>
<rect x="345.3" y="279.8" width="0.85" height="0.85" fill="#1a1a1a"/>
<rect x="335.6" y="270.5" width="0.85" height="0.85" fill="#1a1a1a"/>
<rect x="331.0" y="275.2" width="0.85" height="0.85" fill="#1a1a1a"/>
<rect x="329.7" y="265.9" width="0.85" height="0.85" fill="#1a1a1a"/>
<rect x="319.6" y="263.5" width="0.85" height="0.85" fill="#1a1a1a"/>
<rect x="341.3" y="273.3" width="0.85" height="0.85" fill="#1a1a1a"/>
<rect x="332.2" y="262.6" width="0.85" height="0.85" fill="#1a1a1a"/>
<rect x="343.1" y="272.5" width="0.85" height="0.85" fill="#1a1a1a"/>
<rect x="357.2" y="266.5" width="0.85" height="0.85" fill="#1a1a1a"/>
<rect x="331.8" y="273.6" width="0.85" height="0.85" fill="#1a1a1a"/>
<rect x="361.0" y="269.7" width="0.85" height="0.85" fill="#1a1a1a"/>
<rect x="336.8" y="263.4" width="0.85" height="0.85" fill="#1a1a1a"/>
<rect x="293.0" y="274.5" width="0.85" height="0.85" fill="#1a1a1a"/>
<rect x="302.9" y="276.2" width="0.85" height="0.85" fill="#1a1a1a"/>
<rect x="282.8" y="273.4" width="0.85" height="0.85" fill="#1a1a1a"/>
<rect x="288.6" y="271.0" width="0.85" height="0.85" fill="#1a1a1a"/>
<rect x="288.9" y="277.8" width="0.85" height="0.85" fill="#1a1a1a"/>
<rect x="297.0" y="278.1" width="0.85" height="0.85" fill="#1a1a1a"/>
<rect x="292.5" y="284.8" width="0.85" height="0.85" fill="#1a1a1a"/>
<rect x="292.4" y="284.1" width="0.85" height="0.85" fill="#1a1a1a"/>
<rect x="292.1" y="255.1" width="0.85" height="0.85" fill="#1a1a1a"/>
<rect x="303.2" y="261.0" width="0.85" height="0.85" fill="#1a1a1a"/>
<rect x="295.5" y="251.5" width="0.85" height="0.85" fill="#1a1a1a"/>
<rect x="293.2" y="266.2" width="0.85" height="0.85" fill="#1a1a1a"/>
<rect x="290.3" y="269.0" width="0.85" height="0.85" fill="#1a1a1a"/>
<rect x="292.7" y="279.9" width="0.85" height="0.85" fill="#1a1a1a"/>
<rect x="293.2" y="258.4" width="0.85" height="0.85" fill="#1a1a1a"/>
<rect x="292.4" y="267.8" width="0.85" height="0.85" fill="#1a1a1a"/>
<rect x="300.8" y="260.3" width="0.85" height="0.85" fill="#1a1a1a"/>
<rect x="289.6" y="269.4" width="0.85" height="0.85" fill="#1a1a1a"/>
<rect x="302.7" y="247.4" width="0.85" height="0.85" fill="#1a1a1a"/>
<rect x="287.5" y="258.2" width="0.85" height="0.85" fill="#1a1a1a"/>
<rect x="309.8" y="277.5" width="0.85" height="0.85" fill="#1a1a1a"/>
<rect x="302.5" y="270.0" width="0.85" height="0.85" fill="#1a1a1a"/>
<rect x="287.0" y="276.4" width="0.85" height="0.85" fill="#1a1a1a"/>
<rect x="292.4" y="257.0" width="0.85" height="0.85" fill="#1a1a1a"/>
<rect x="311.7" y="250.4" width="0.85" height="0.85" fill="#1a1a1a"/>
<rect x="307.2" y="267.1" width="0.85" height="0.85" fill="#1a1a1a"/>
<rect x="288.6" y="266.8" width="0.85" height="0.85" fill="#1a1a1a"/>
<rect x="289.2" y="266.9" width="0.85" height="0.85" fill="#1a1a1a"/>
<rect x="290.8" y="253.0" width="0.85" height="0.85" fill="#1a1a1a"/>
<rect x="317.5" y="259.9" width="0.85" height="0.85" fill="#1a1a1a"/>
<rect x="304.0" y="264.5" width="0.85" height="0.85" fill="#1a1a1a"/>
<rect x="301.5" y="252.2" width="0.85" height="0.85" fill="#1a1a1a"/>
<rect x="287.6" y="231.9" width="0.85" height="0.85" fill="#1a1a1a"/>
<rect x="304.1" y="269.5" width="0.85" height="0.85" fill="#1a1a1a"/>
<rect x="286.5" y="273.5" width="0.85" height="0.85" fill="#1a1a1a"/>
<rect x="300.8" y="294.7" width="0.85" height="0.85" fill="#1a1a1a"/>
<rect x="297.9" y="274.3" width="0.85" height="0.85" fill="#1a1a1a"/>
<rect x="301.0" y="272.8" width="0.85" height="0.85" fill="#1a1a1a"/>
<rect x="295.8" y="260.8" width="0.85" height="0.85" fill="#1a1a1a"/>
<rect x="301.8" y="277.5" width="0.85" height="0.85" fill="#1a1a1a"/>
<rect x="286.6" y="253.5" width="0.85" height="0.85" fill="#1a1a1a"/>
<rect x="295.7" y="283.3" width="0.85" height="0.85" fill="#1a1a1a"/>
<rect x="294.3" y="247.8" width="0.85" height="0.85" fill="#1a1a1a"/>
<rect x="302.6" y="272.7" width="0.85" height="0.85" fill="#1a1a1a"/>
<rect x="311.8" y="267.0" width="0.85" height="0.85" fill="#1a1a1a"/>
<rect x="312.0" y="257.7" width="0.85" height="0.85" fill="#1a1a1a"/>
<rect x="303.4" y="266.4" width="0.85" height="0.85" fill="#1a1a1a"/>
<rect x="286.4" y="262.2" width="0.85" height="0.85" fill="#1a1a1a"/>
<rect x="338.2" y="292.0" width="0.85" height="0.85" fill="#1a1a1a"/>
<rect x="317.5" y="291.9" width="0.85" height="0.85" fill="#1a1a1a"/>
<rect x="333.0" y="291.2" width="0.85" height="0.85" fill="#1a1a1a"/>
<rect x="325.5" y="289.1" width="0.85" height="0.85" fill="#1a1a1a"/>
<rect x="312.0" y="287.8" width="0.85" height="0.85" fill="#1a1a1a"/>
<rect x="323.6" y="285.4" width="0.85" height="0.85" fill="#1a1a1a"/>
<rect x="318.6" y="288.6" width="0.85" height="0.85" fill="#1a1a1a"/>
<rect x="324.7" y="291.8" width="0.85" height="0.85" fill="#1a1a1a"/>
<rect x="309.6" y="286.6" width="0.85" height="0.85" fill="#1a1a1a"/>
<rect x="325.3" y="286.7" width="0.85" height="0.85" fill="#1a1a1a"/>
<rect x="326.1" y="286.4" width="0.85" height="0.85" fill="#1a1a1a"/>
<rect x="336.4" y="287.2" width="0.85" height="0.85" fill="#1a1a1a"/>
<rect x="308.3" y="290.7" width="0.85" height="0.85" fill="#1a1a1a"/>
<rect x="342.3" y="281.2" width="0.85" height="0.85" fill="#1a1a1a"/>
<rect x="320.5" y="288.3" width="0.85" height="0.85" fill="#1a1a1a"/>
<rect x="334.6" y="293.3" width="0.85" height="0.85" fill="#1a1a1a"/>
<rect x="320.1" y="282.5" width="0.85" height="0.85" fill="#1a1a1a"/>
<rect x="330.2" y="291.6" width="0.85" height="0.85" fill="#1a1a1a"/>
<rect x="327.7" y="288.3" width="0.85" height="0.85" fill="#1a1a1a"/>
<rect x="312.2" y="296.7" width="0.85" height="0.85" fill="#1a1a1a"/>
<rect x="307.5" y="282.7" width="0.85" height="0.85" fill="#1a1a1a"/>
<rect x="333.9" y="289.0" width="0.85" height="0.85" fill="#1a1a1a"/>
<rect x="330.2" y="289.3" width="0.85" height="0.85" fill="#1a1a1a"/>
<rect x="342.5" y="293.1" width="0.85" height="0.85" fill="#1a1a1a"/>
<rect x="315.4" y="291.6" width="0.85" height="0.85" fill="#1a1a1a"/>
<rect x="307.8" y="282.0" width="0.85" height="0.85" fill="#1a1a1a"/>
<rect x="336.7" y="286.5" width="0.85" height="0.85" fill="#1a1a1a"/>
<rect x="296.0" y="288.0" width="0.85" height="0.85" fill="#1a1a1a"/>
<rect x="314.0" y="289.8" width="0.85" height="0.85" fill="#1a1a1a"/>
<rect x="321.4" y="285.3" width="0.85" height="0.85" fill="#1a1a1a"/>
<rect x="313.4" y="290.7" width="0.85" height="0.85" fill="#1a1a1a"/>
<rect x="310.8" y="288.5" width="0.85" height="0.85" fill="#1a1a1a"/>
<rect x="310.1" y="289.6" width="0.85" height="0.85" fill="#1a1a1a"/>
<rect x="343.7" y="290.0" width="0.85" height="0.85" fill="#1a1a1a"/>
<rect x="335.6" y="289.6" width="0.85" height="0.85" fill="#1a1a1a"/>
<rect x="310.4" y="287.0" width="0.85" height="0.85" fill="#1a1a1a"/>
<rect x="322.9" y="289.6" width="0.85" height="0.85" fill="#1a1a1a"/>
<rect x="314.8" y="290.2" width="0.85" height="0.85" fill="#1a1a1a"/>
<rect x="313.4" y="288.3" width="0.85" height="0.85" fill="#1a1a1a"/>
<rect x="322.0" y="284.0" width="0.85" height="0.85" fill="#1a1a1a"/>
<rect x="334.2" y="288.2" width="0.85" height="0.85" fill="#1a1a1a"/>
<rect x="323.4" y="287.9" width="0.85" height="0.85" fill="#1a1a1a"/>
<rect x="296.6" y="283.1" width="0.85" height="0.85" fill="#1a1a1a"/>
<rect x="311.2" y="291.5" width="0.85" height="0.85" fill="#1a1a1a"/>
<rect x="315.1" y="290.2" width="0.85" height="0.85" fill="#1a1a1a"/>
<rect x="309.6" y="285.0" width="0.85" height="0.85" fill="#1a1a1a"/>
<rect x="316.4" y="291.8" width="0.85" height="0.85" fill="#1a1a1a"/>
<rect x="302.0" y="287.4" width="0.85" height="0.85" fill="#1a1a1a"/>
<rect x="327.0" y="288.5" width="0.85" height="0.85" fill="#1a1a1a"/>
<rect x="321.9" y="290.8" width="0.85" height="0.85" fill="#1a1a1a"/>
<rect x="325.6" y="284.5" width="0.85" height="0.85" fill="#1a1a1a"/>
<rect x="329.8" y="285.3" width="0.85" height="0.85" fill="#1a1a1a"/>
<rect x="318.0" y="293.1" width="0.85" height="0.85" fill="#1a1a1a"/>
<rect x="351.7" y="293.2" width="0.85" height="0.85" fill="#1a1a1a"/>
<rect x="327.2" y="285.3" width="0.85" height="0.85" fill="#1a1a1a"/>
<rect x="312.9" y="293.9" width="0.85" height="0.85" fill="#1a1a1a"/>
<rect x="326.1" y="283.1" width="0.85" height="0.85" fill="#1a1a1a"/>
<rect x="341.1" y="290.1" width="0.85" height="0.85" fill="#1a1a1a"/>
<rect x="338.0" y="289.5" width="0.85" height="0.85" fill="#1a1a1a"/>
<rect x="296.0" y="285.4" width="0.85" height="0.85" fill="#1a1a1a"/>
<rect x="320.4" y="287.4" width="0.85" height="0.85" fill="#1a1a1a"/>
<rect x="340.4" y="285.7" width="0.85" height="0.85" fill="#1a1a1a"/>
<rect x="320.9" y="287.8" width="0.85" height="0.85" fill="#1a1a1a"/>
<rect x="321.0" y="284.4" width="0.85" height="0.85" fill="#1a1a1a"/>
<rect x="307.3" y="278.9" width="0.85" height="0.85" fill="#1a1a1a"/>
<rect x="326.1" y="287.3" width="0.85" height="0.85" fill="#1a1a1a"/>
<rect x="324.5" y="284.3" width="0.85" height="0.85" fill="#1a1a1a"/>
<rect x="322.1" y="284.6" width="0.85" height="0.85" fill="#1a1a1a"/>
<rect x="309.8" y="289.2" width="0.85" height="0.85" fill="#1a1a1a"/>
<rect x="329.8" y="290.1" width="0.85" height="0.85" fill="#1a1a1a"/>
<rect x="321.6" y="286.7" width="0.85" height="0.85" fill="#1a1a1a"/>
<rect x="339.0" y="292.4" width="0.85" height="0.85" fill="#1a1a1a"/>
<rect x="314.4" y="284.2" width="0.85" height="0.85" fill="#1a1a1a"/>
<rect x="326.6" y="289.1" width="0.85" height="0.85" fill="#1a1a1a"/>
<rect x="311.0" y="296.1" width="0.85" height="0.85" fill="#1a1a1a"/>
<rect x="296.8" y="285.1" width="0.85" height="0.85" fill="#1a1a1a"/>
<rect x="325.0" y="291.5" width="0.85" height="0.85" fill="#1a1a1a"/>
<rect x="299.7" y="286.5" width="0.85" height="0.85" fill="#1a1a1a"/>
<rect x="339.4" y="293.0" width="0.85" height="0.85" fill="#1a1a1a"/>
<rect x="319.0" y="288.2" width="0.85" height="0.85" fill="#1a1a1a"/>
<text x="290.30" y="234.60" font-size="6.6" fill="#111" textLength="62.20" lengthAdjust="spacingAndGlyphs" stroke="#111" stroke-width="0.2">%hCD25+ of hCD8+</text>
<text x="314.80" y="244.30" font-size="6.6" fill="#111" textLength="13.50" lengthAdjust="spacingAndGlyphs" stroke="#111" stroke-width="0.2">37.1</text>
<text x="307.70" y="302.60" font-size="6.6" fill="#111" textLength="63.00" lengthAdjust="spacingAndGlyphs" stroke="#111" stroke-width="0.2">%hCD69+ of hCD8+</text>
<text x="333.10" y="311.20" font-size="6.6" fill="#111" textLength="11.50" lengthAdjust="spacingAndGlyphs" stroke="#111" stroke-width="0.2">45.0</text>
</svg>
</body></html>
